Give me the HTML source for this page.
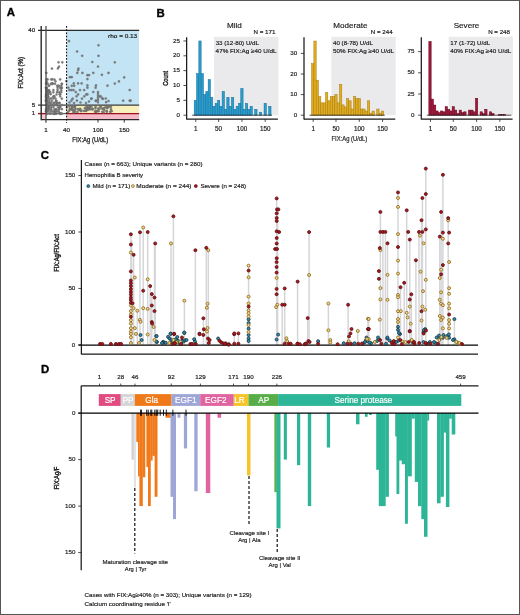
<!DOCTYPE html>
<html><head><meta charset="utf-8"><title>Figure</title>
<style>html,body{margin:0;padding:0;background:#fff;width:520px;height:615px;overflow:hidden}svg{display:block;will-change:transform}
text{font-family:"Liberation Sans", sans-serif}</style></head>
<body><svg width="520" height="615" viewBox="0 0 520 615">
<rect x="0.5" y="0.5" width="519" height="614" fill="#fff" stroke="#555" stroke-width="1"/>
<text x="6.7" y="16.48" font-size="11.4" text-anchor="start" fill="#000" font-weight="bold" stroke="#000" stroke-width="0.35">A</text>
<text x="156.5" y="16.68" font-size="11.4" text-anchor="start" fill="#000" font-weight="bold" stroke="#000" stroke-width="0.35">B</text>
<text x="40.8" y="159.38" font-size="11.4" text-anchor="start" fill="#000" font-weight="bold" stroke="#000" stroke-width="0.35">C</text>
<text x="41" y="372.68" font-size="11.4" text-anchor="start" fill="#000" font-weight="bold" stroke="#000" stroke-width="0.35">D</text>
<rect x="67" y="30.4" width="72" height="74.6" fill="#c3e4f4"/>
<rect x="67" y="105.3" width="72" height="8" fill="#f8f0bb"/>
<rect x="67" y="113.5" width="72" height="6.1" fill="#f5b9c8"/>
<rect x="41.5" y="113.5" width="4.2" height="6.1" fill="#f5c9d4"/>
<line x1="38" y1="113.6" x2="46" y2="113.6" stroke="#a01222" stroke-width="1.4"/>
<line x1="46" y1="113.6" x2="66.6" y2="113.6" stroke="#6a6a6a" stroke-width="1.4"/>
<line x1="66.6" y1="113.6" x2="139.2" y2="113.6" stroke="#a01222" stroke-width="1.4"/>
<line x1="38" y1="105.1" x2="139.2" y2="105.1" stroke="#3a3a3a" stroke-width="1.2"/>
<circle cx="69" cy="41.1" r="1.1" fill="#7c7c7c" stroke="#5c5c5c" stroke-width="0.3"/>
<circle cx="98.5" cy="45.3" r="1.1" fill="#7c7c7c" stroke="#5c5c5c" stroke-width="0.3"/>
<circle cx="77.1" cy="51.5" r="1.1" fill="#7c7c7c" stroke="#5c5c5c" stroke-width="0.3"/>
<circle cx="82.2" cy="55.8" r="1.1" fill="#7c7c7c" stroke="#5c5c5c" stroke-width="0.3"/>
<circle cx="98.5" cy="55.8" r="1.1" fill="#7c7c7c" stroke="#5c5c5c" stroke-width="0.3"/>
<circle cx="92.3" cy="62" r="1.1" fill="#7c7c7c" stroke="#5c5c5c" stroke-width="0.3"/>
<circle cx="114.8" cy="62.3" r="1.1" fill="#7c7c7c" stroke="#5c5c5c" stroke-width="0.3"/>
<circle cx="98" cy="66.6" r="1.1" fill="#7c7c7c" stroke="#5c5c5c" stroke-width="0.3"/>
<circle cx="78.5" cy="68.6" r="1.1" fill="#7c7c7c" stroke="#5c5c5c" stroke-width="0.3"/>
<circle cx="78.1" cy="70.2" r="1.1" fill="#7c7c7c" stroke="#5c5c5c" stroke-width="0.3"/>
<circle cx="77.3" cy="72.9" r="1.1" fill="#7c7c7c" stroke="#5c5c5c" stroke-width="0.3"/>
<circle cx="82.4" cy="72.9" r="1.1" fill="#7c7c7c" stroke="#5c5c5c" stroke-width="0.3"/>
<circle cx="93.3" cy="72.9" r="1.1" fill="#7c7c7c" stroke="#5c5c5c" stroke-width="0.3"/>
<circle cx="87.4" cy="75.2" r="1.1" fill="#7c7c7c" stroke="#5c5c5c" stroke-width="0.3"/>
<circle cx="89" cy="75.2" r="1.1" fill="#7c7c7c" stroke="#5c5c5c" stroke-width="0.3"/>
<circle cx="101.9" cy="74.8" r="1.1" fill="#7c7c7c" stroke="#5c5c5c" stroke-width="0.3"/>
<circle cx="108.5" cy="72.9" r="1.1" fill="#7c7c7c" stroke="#5c5c5c" stroke-width="0.3"/>
<circle cx="69.9" cy="77.2" r="1.1" fill="#7c7c7c" stroke="#5c5c5c" stroke-width="0.3"/>
<circle cx="71.8" cy="77.2" r="1.1" fill="#7c7c7c" stroke="#5c5c5c" stroke-width="0.3"/>
<circle cx="124.2" cy="77.4" r="1.1" fill="#7c7c7c" stroke="#5c5c5c" stroke-width="0.3"/>
<circle cx="87.4" cy="79.1" r="1.1" fill="#7c7c7c" stroke="#5c5c5c" stroke-width="0.3"/>
<circle cx="118.9" cy="81.4" r="1.1" fill="#7c7c7c" stroke="#5c5c5c" stroke-width="0.3"/>
<circle cx="73.8" cy="83.4" r="1.1" fill="#7c7c7c" stroke="#5c5c5c" stroke-width="0.3"/>
<circle cx="78.1" cy="83.4" r="1.1" fill="#7c7c7c" stroke="#5c5c5c" stroke-width="0.3"/>
<circle cx="81.6" cy="83.4" r="1.1" fill="#7c7c7c" stroke="#5c5c5c" stroke-width="0.3"/>
<circle cx="114.8" cy="83.6" r="1.1" fill="#7c7c7c" stroke="#5c5c5c" stroke-width="0.3"/>
<circle cx="71.8" cy="85.8" r="1.1" fill="#7c7c7c" stroke="#5c5c5c" stroke-width="0.3"/>
<circle cx="74.2" cy="85.8" r="1.1" fill="#7c7c7c" stroke="#5c5c5c" stroke-width="0.3"/>
<circle cx="87.4" cy="85.4" r="1.1" fill="#7c7c7c" stroke="#5c5c5c" stroke-width="0.3"/>
<circle cx="96" cy="85.4" r="1.1" fill="#7c7c7c" stroke="#5c5c5c" stroke-width="0.3"/>
<circle cx="107.5" cy="85.7" r="1.1" fill="#7c7c7c" stroke="#5c5c5c" stroke-width="0.3"/>
<circle cx="87.4" cy="87.7" r="1.1" fill="#7c7c7c" stroke="#5c5c5c" stroke-width="0.3"/>
<circle cx="95.6" cy="87.7" r="1.1" fill="#7c7c7c" stroke="#5c5c5c" stroke-width="0.3"/>
<circle cx="68.3" cy="87.7" r="1.1" fill="#7c7c7c" stroke="#5c5c5c" stroke-width="0.3"/>
<circle cx="69.5" cy="90.1" r="1.1" fill="#7c7c7c" stroke="#5c5c5c" stroke-width="0.3"/>
<circle cx="71.4" cy="90.1" r="1.1" fill="#7c7c7c" stroke="#5c5c5c" stroke-width="0.3"/>
<circle cx="73.4" cy="90.1" r="1.1" fill="#7c7c7c" stroke="#5c5c5c" stroke-width="0.3"/>
<circle cx="80" cy="90.1" r="1.1" fill="#7c7c7c" stroke="#5c5c5c" stroke-width="0.3"/>
<circle cx="84.2" cy="90.1" r="1.1" fill="#7c7c7c" stroke="#5c5c5c" stroke-width="0.3"/>
<circle cx="129.7" cy="90" r="1.1" fill="#7c7c7c" stroke="#5c5c5c" stroke-width="0.3"/>
<circle cx="75.7" cy="92" r="1.1" fill="#7c7c7c" stroke="#5c5c5c" stroke-width="0.3"/>
<circle cx="93.3" cy="92" r="1.1" fill="#7c7c7c" stroke="#5c5c5c" stroke-width="0.3"/>
<circle cx="78.1" cy="94.4" r="1.1" fill="#7c7c7c" stroke="#5c5c5c" stroke-width="0.3"/>
<circle cx="86.3" cy="94.4" r="1.1" fill="#7c7c7c" stroke="#5c5c5c" stroke-width="0.3"/>
<circle cx="87.4" cy="94.4" r="1.1" fill="#7c7c7c" stroke="#5c5c5c" stroke-width="0.3"/>
<circle cx="76.5" cy="96.3" r="1.1" fill="#7c7c7c" stroke="#5c5c5c" stroke-width="0.3"/>
<circle cx="84.3" cy="96.3" r="1.1" fill="#7c7c7c" stroke="#5c5c5c" stroke-width="0.3"/>
<circle cx="99.9" cy="96.3" r="1.1" fill="#7c7c7c" stroke="#5c5c5c" stroke-width="0.3"/>
<circle cx="102.3" cy="98.3" r="1.1" fill="#7c7c7c" stroke="#5c5c5c" stroke-width="0.3"/>
<circle cx="100.8" cy="96.5" r="1.1" fill="#7c7c7c" stroke="#5c5c5c" stroke-width="0.3"/>
<circle cx="102.8" cy="98.9" r="1.1" fill="#7c7c7c" stroke="#5c5c5c" stroke-width="0.3"/>
<circle cx="105.7" cy="98.5" r="1.1" fill="#7c7c7c" stroke="#5c5c5c" stroke-width="0.3"/>
<circle cx="106.1" cy="102.2" r="1.1" fill="#7c7c7c" stroke="#5c5c5c" stroke-width="0.3"/>
<circle cx="108.5" cy="101" r="1.1" fill="#7c7c7c" stroke="#5c5c5c" stroke-width="0.3"/>
<circle cx="72.6" cy="98.7" r="1.1" fill="#7c7c7c" stroke="#5c5c5c" stroke-width="0.3"/>
<circle cx="71.4" cy="100.6" r="1.1" fill="#7c7c7c" stroke="#5c5c5c" stroke-width="0.3"/>
<circle cx="76.9" cy="100.6" r="1.1" fill="#7c7c7c" stroke="#5c5c5c" stroke-width="0.3"/>
<circle cx="82" cy="98.7" r="1.1" fill="#7c7c7c" stroke="#5c5c5c" stroke-width="0.3"/>
<circle cx="91.3" cy="98.7" r="1.1" fill="#7c7c7c" stroke="#5c5c5c" stroke-width="0.3"/>
<circle cx="96" cy="100.6" r="1.1" fill="#7c7c7c" stroke="#5c5c5c" stroke-width="0.3"/>
<circle cx="123.2" cy="100.7" r="1.1" fill="#7c7c7c" stroke="#5c5c5c" stroke-width="0.3"/>
<circle cx="129.7" cy="100.7" r="1.1" fill="#7c7c7c" stroke="#5c5c5c" stroke-width="0.3"/>
<circle cx="130.7" cy="100.7" r="1.1" fill="#7c7c7c" stroke="#5c5c5c" stroke-width="0.3"/>
<circle cx="91.6" cy="98.6" r="1.1" fill="#7c7c7c" stroke="#5c5c5c" stroke-width="0.3"/>
<circle cx="95.8" cy="100.9" r="1.1" fill="#7c7c7c" stroke="#5c5c5c" stroke-width="0.3"/>
<circle cx="66.3" cy="81.1" r="1.1" fill="#7c7c7c" stroke="#5c5c5c" stroke-width="0.3"/>
<circle cx="98" cy="92" r="1.1" fill="#7c7c7c" stroke="#5c5c5c" stroke-width="0.3"/>
<circle cx="98" cy="94" r="1.1" fill="#7c7c7c" stroke="#5c5c5c" stroke-width="0.3"/>
<circle cx="98" cy="96" r="1.1" fill="#7c7c7c" stroke="#5c5c5c" stroke-width="0.3"/>
<circle cx="98" cy="98" r="1.1" fill="#7c7c7c" stroke="#5c5c5c" stroke-width="0.3"/>
<circle cx="98" cy="100" r="1.1" fill="#7c7c7c" stroke="#5c5c5c" stroke-width="0.3"/>
<circle cx="98" cy="102.3" r="1.1" fill="#7c7c7c" stroke="#5c5c5c" stroke-width="0.3"/>
<circle cx="69.5" cy="102.5" r="1.1" fill="#7c7c7c" stroke="#5c5c5c" stroke-width="0.3"/>
<circle cx="74" cy="103" r="1.1" fill="#7c7c7c" stroke="#5c5c5c" stroke-width="0.3"/>
<circle cx="80.5" cy="102.5" r="1.1" fill="#7c7c7c" stroke="#5c5c5c" stroke-width="0.3"/>
<circle cx="86" cy="103" r="1.1" fill="#7c7c7c" stroke="#5c5c5c" stroke-width="0.3"/>
<circle cx="89" cy="101.5" r="1.1" fill="#7c7c7c" stroke="#5c5c5c" stroke-width="0.3"/>
<circle cx="58.5" cy="62.3" r="1.1" fill="#7c7c7c" stroke="#5c5c5c" stroke-width="0.3"/>
<circle cx="62.3" cy="62.3" r="1.1" fill="#7c7c7c" stroke="#5c5c5c" stroke-width="0.3"/>
<circle cx="59" cy="66.7" r="1.1" fill="#7c7c7c" stroke="#5c5c5c" stroke-width="0.3"/>
<circle cx="57.9" cy="68.4" r="1.1" fill="#7c7c7c" stroke="#5c5c5c" stroke-width="0.3"/>
<circle cx="51.9" cy="68.6" r="1.1" fill="#7c7c7c" stroke="#5c5c5c" stroke-width="0.3"/>
<circle cx="46.3" cy="72.9" r="1.1" fill="#7c7c7c" stroke="#5c5c5c" stroke-width="0.3"/>
<circle cx="51.27" cy="79.44" r="1.1" fill="#7c7c7c" stroke="#5c5c5c" stroke-width="0.3"/>
<circle cx="60.2" cy="79.41" r="1.1" fill="#7c7c7c" stroke="#5c5c5c" stroke-width="0.3"/>
<circle cx="52.33" cy="79.45" r="1.1" fill="#7c7c7c" stroke="#5c5c5c" stroke-width="0.3"/>
<circle cx="47.6" cy="79.42" r="1.1" fill="#7c7c7c" stroke="#5c5c5c" stroke-width="0.3"/>
<circle cx="54.42" cy="79.54" r="1.1" fill="#7c7c7c" stroke="#5c5c5c" stroke-width="0.3"/>
<circle cx="46.55" cy="79.34" r="1.1" fill="#7c7c7c" stroke="#5c5c5c" stroke-width="0.3"/>
<circle cx="46.55" cy="81.67" r="1.1" fill="#7c7c7c" stroke="#5c5c5c" stroke-width="0.3"/>
<circle cx="55.48" cy="81.37" r="1.1" fill="#7c7c7c" stroke="#5c5c5c" stroke-width="0.3"/>
<circle cx="61.78" cy="83.87" r="1.1" fill="#7c7c7c" stroke="#5c5c5c" stroke-width="0.3"/>
<circle cx="54.95" cy="83.73" r="1.1" fill="#7c7c7c" stroke="#5c5c5c" stroke-width="0.3"/>
<circle cx="47.08" cy="83.49" r="1.1" fill="#7c7c7c" stroke="#5c5c5c" stroke-width="0.3"/>
<circle cx="52.85" cy="83.5" r="1.1" fill="#7c7c7c" stroke="#5c5c5c" stroke-width="0.3"/>
<circle cx="47.6" cy="83.58" r="1.1" fill="#7c7c7c" stroke="#5c5c5c" stroke-width="0.3"/>
<circle cx="46.02" cy="83.67" r="1.1" fill="#7c7c7c" stroke="#5c5c5c" stroke-width="0.3"/>
<circle cx="51.27" cy="83.82" r="1.1" fill="#7c7c7c" stroke="#5c5c5c" stroke-width="0.3"/>
<circle cx="52.33" cy="83.74" r="1.1" fill="#7c7c7c" stroke="#5c5c5c" stroke-width="0.3"/>
<circle cx="52.33" cy="83.74" r="1.1" fill="#7c7c7c" stroke="#5c5c5c" stroke-width="0.3"/>
<circle cx="51.27" cy="83.59" r="1.1" fill="#7c7c7c" stroke="#5c5c5c" stroke-width="0.3"/>
<circle cx="61.78" cy="83.88" r="1.1" fill="#7c7c7c" stroke="#5c5c5c" stroke-width="0.3"/>
<circle cx="58.62" cy="85.89" r="1.1" fill="#7c7c7c" stroke="#5c5c5c" stroke-width="0.3"/>
<circle cx="49.17" cy="85.7" r="1.1" fill="#7c7c7c" stroke="#5c5c5c" stroke-width="0.3"/>
<circle cx="48.65" cy="85.64" r="1.1" fill="#7c7c7c" stroke="#5c5c5c" stroke-width="0.3"/>
<circle cx="57.05" cy="85.77" r="1.1" fill="#7c7c7c" stroke="#5c5c5c" stroke-width="0.3"/>
<circle cx="58.62" cy="85.76" r="1.1" fill="#7c7c7c" stroke="#5c5c5c" stroke-width="0.3"/>
<circle cx="61.25" cy="85.95" r="1.1" fill="#7c7c7c" stroke="#5c5c5c" stroke-width="0.3"/>
<circle cx="46.02" cy="87.82" r="1.1" fill="#7c7c7c" stroke="#5c5c5c" stroke-width="0.3"/>
<circle cx="60.2" cy="87.93" r="1.1" fill="#7c7c7c" stroke="#5c5c5c" stroke-width="0.3"/>
<circle cx="61.78" cy="87.9" r="1.1" fill="#7c7c7c" stroke="#5c5c5c" stroke-width="0.3"/>
<circle cx="46.02" cy="87.99" r="1.1" fill="#7c7c7c" stroke="#5c5c5c" stroke-width="0.3"/>
<circle cx="57.58" cy="87.85" r="1.1" fill="#7c7c7c" stroke="#5c5c5c" stroke-width="0.3"/>
<circle cx="46.55" cy="87.87" r="1.1" fill="#7c7c7c" stroke="#5c5c5c" stroke-width="0.3"/>
<circle cx="61.25" cy="88.04" r="1.1" fill="#7c7c7c" stroke="#5c5c5c" stroke-width="0.3"/>
<circle cx="46.55" cy="87.84" r="1.1" fill="#7c7c7c" stroke="#5c5c5c" stroke-width="0.3"/>
<circle cx="46.55" cy="87.76" r="1.1" fill="#7c7c7c" stroke="#5c5c5c" stroke-width="0.3"/>
<circle cx="57.58" cy="89.94" r="1.1" fill="#7c7c7c" stroke="#5c5c5c" stroke-width="0.3"/>
<circle cx="53.38" cy="90.05" r="1.1" fill="#7c7c7c" stroke="#5c5c5c" stroke-width="0.3"/>
<circle cx="47.6" cy="90.16" r="1.1" fill="#7c7c7c" stroke="#5c5c5c" stroke-width="0.3"/>
<circle cx="46.55" cy="90.13" r="1.1" fill="#7c7c7c" stroke="#5c5c5c" stroke-width="0.3"/>
<circle cx="46.55" cy="90.04" r="1.1" fill="#7c7c7c" stroke="#5c5c5c" stroke-width="0.3"/>
<circle cx="47.6" cy="89.98" r="1.1" fill="#7c7c7c" stroke="#5c5c5c" stroke-width="0.3"/>
<circle cx="61.25" cy="90.19" r="1.1" fill="#7c7c7c" stroke="#5c5c5c" stroke-width="0.3"/>
<circle cx="49.17" cy="90.22" r="1.1" fill="#7c7c7c" stroke="#5c5c5c" stroke-width="0.3"/>
<circle cx="47.6" cy="92.16" r="1.1" fill="#7c7c7c" stroke="#5c5c5c" stroke-width="0.3"/>
<circle cx="59.15" cy="92.26" r="1.1" fill="#7c7c7c" stroke="#5c5c5c" stroke-width="0.3"/>
<circle cx="46.55" cy="92.4" r="1.1" fill="#7c7c7c" stroke="#5c5c5c" stroke-width="0.3"/>
<circle cx="47.6" cy="92.1" r="1.1" fill="#7c7c7c" stroke="#5c5c5c" stroke-width="0.3"/>
<circle cx="57.05" cy="92.13" r="1.1" fill="#7c7c7c" stroke="#5c5c5c" stroke-width="0.3"/>
<circle cx="49.17" cy="92.03" r="1.1" fill="#7c7c7c" stroke="#5c5c5c" stroke-width="0.3"/>
<circle cx="46.55" cy="92.23" r="1.1" fill="#7c7c7c" stroke="#5c5c5c" stroke-width="0.3"/>
<circle cx="48.12" cy="92.24" r="1.1" fill="#7c7c7c" stroke="#5c5c5c" stroke-width="0.3"/>
<circle cx="50.23" cy="92.18" r="1.1" fill="#7c7c7c" stroke="#5c5c5c" stroke-width="0.3"/>
<circle cx="61.25" cy="92.19" r="1.1" fill="#7c7c7c" stroke="#5c5c5c" stroke-width="0.3"/>
<circle cx="53.38" cy="92.35" r="1.1" fill="#7c7c7c" stroke="#5c5c5c" stroke-width="0.3"/>
<circle cx="47.6" cy="94.19" r="1.1" fill="#7c7c7c" stroke="#5c5c5c" stroke-width="0.3"/>
<circle cx="60.2" cy="94.46" r="1.1" fill="#7c7c7c" stroke="#5c5c5c" stroke-width="0.3"/>
<circle cx="48.12" cy="94.21" r="1.1" fill="#7c7c7c" stroke="#5c5c5c" stroke-width="0.3"/>
<circle cx="56.52" cy="94.51" r="1.1" fill="#7c7c7c" stroke="#5c5c5c" stroke-width="0.3"/>
<circle cx="47.6" cy="94.51" r="1.1" fill="#7c7c7c" stroke="#5c5c5c" stroke-width="0.3"/>
<circle cx="59.67" cy="94.37" r="1.1" fill="#7c7c7c" stroke="#5c5c5c" stroke-width="0.3"/>
<circle cx="50.75" cy="94.17" r="1.1" fill="#7c7c7c" stroke="#5c5c5c" stroke-width="0.3"/>
<circle cx="46.02" cy="94.52" r="1.1" fill="#7c7c7c" stroke="#5c5c5c" stroke-width="0.3"/>
<circle cx="48.12" cy="96.54" r="1.1" fill="#7c7c7c" stroke="#5c5c5c" stroke-width="0.3"/>
<circle cx="48.12" cy="96.59" r="1.1" fill="#7c7c7c" stroke="#5c5c5c" stroke-width="0.3"/>
<circle cx="53.9" cy="96.38" r="1.1" fill="#7c7c7c" stroke="#5c5c5c" stroke-width="0.3"/>
<circle cx="47.08" cy="96.55" r="1.1" fill="#7c7c7c" stroke="#5c5c5c" stroke-width="0.3"/>
<circle cx="46.02" cy="96.35" r="1.1" fill="#7c7c7c" stroke="#5c5c5c" stroke-width="0.3"/>
<circle cx="53.38" cy="96.6" r="1.1" fill="#7c7c7c" stroke="#5c5c5c" stroke-width="0.3"/>
<circle cx="54.42" cy="96.37" r="1.1" fill="#7c7c7c" stroke="#5c5c5c" stroke-width="0.3"/>
<circle cx="60.2" cy="96.34" r="1.1" fill="#7c7c7c" stroke="#5c5c5c" stroke-width="0.3"/>
<circle cx="46.02" cy="98.5" r="1.1" fill="#7c7c7c" stroke="#5c5c5c" stroke-width="0.3"/>
<circle cx="51.27" cy="98.41" r="1.1" fill="#7c7c7c" stroke="#5c5c5c" stroke-width="0.3"/>
<circle cx="47.08" cy="98.54" r="1.1" fill="#7c7c7c" stroke="#5c5c5c" stroke-width="0.3"/>
<circle cx="53.38" cy="98.44" r="1.1" fill="#7c7c7c" stroke="#5c5c5c" stroke-width="0.3"/>
<circle cx="49.7" cy="98.75" r="1.1" fill="#7c7c7c" stroke="#5c5c5c" stroke-width="0.3"/>
<circle cx="61.78" cy="98.65" r="1.1" fill="#7c7c7c" stroke="#5c5c5c" stroke-width="0.3"/>
<circle cx="55.48" cy="98.62" r="1.1" fill="#7c7c7c" stroke="#5c5c5c" stroke-width="0.3"/>
<circle cx="47.08" cy="100.53" r="1.1" fill="#7c7c7c" stroke="#5c5c5c" stroke-width="0.3"/>
<circle cx="46.02" cy="100.88" r="1.1" fill="#7c7c7c" stroke="#5c5c5c" stroke-width="0.3"/>
<circle cx="56" cy="100.91" r="1.1" fill="#7c7c7c" stroke="#5c5c5c" stroke-width="0.3"/>
<circle cx="46.02" cy="100.77" r="1.1" fill="#7c7c7c" stroke="#5c5c5c" stroke-width="0.3"/>
<circle cx="51.8" cy="100.81" r="1.1" fill="#7c7c7c" stroke="#5c5c5c" stroke-width="0.3"/>
<circle cx="49.17" cy="100.92" r="1.1" fill="#7c7c7c" stroke="#5c5c5c" stroke-width="0.3"/>
<circle cx="46.02" cy="100.74" r="1.1" fill="#7c7c7c" stroke="#5c5c5c" stroke-width="0.3"/>
<circle cx="56.52" cy="100.88" r="1.1" fill="#7c7c7c" stroke="#5c5c5c" stroke-width="0.3"/>
<circle cx="56.52" cy="102.93" r="1.1" fill="#7c7c7c" stroke="#5c5c5c" stroke-width="0.3"/>
<circle cx="57.58" cy="103.02" r="1.1" fill="#7c7c7c" stroke="#5c5c5c" stroke-width="0.3"/>
<circle cx="49.7" cy="102.92" r="1.1" fill="#7c7c7c" stroke="#5c5c5c" stroke-width="0.3"/>
<circle cx="59.67" cy="103" r="1.1" fill="#7c7c7c" stroke="#5c5c5c" stroke-width="0.3"/>
<circle cx="50.75" cy="102.97" r="1.1" fill="#7c7c7c" stroke="#5c5c5c" stroke-width="0.3"/>
<circle cx="59.15" cy="102.88" r="1.1" fill="#7c7c7c" stroke="#5c5c5c" stroke-width="0.3"/>
<circle cx="54.42" cy="102.8" r="1.1" fill="#7c7c7c" stroke="#5c5c5c" stroke-width="0.3"/>
<circle cx="53.38" cy="102.89" r="1.1" fill="#7c7c7c" stroke="#5c5c5c" stroke-width="0.3"/>
<circle cx="46.55" cy="105.04" r="1.1" fill="#7c7c7c" stroke="#5c5c5c" stroke-width="0.3"/>
<circle cx="61.78" cy="105.13" r="1.1" fill="#7c7c7c" stroke="#5c5c5c" stroke-width="0.3"/>
<circle cx="56.52" cy="104.94" r="1.1" fill="#7c7c7c" stroke="#5c5c5c" stroke-width="0.3"/>
<circle cx="56.52" cy="105.01" r="1.1" fill="#7c7c7c" stroke="#5c5c5c" stroke-width="0.3"/>
<circle cx="51.27" cy="105.12" r="1.1" fill="#7c7c7c" stroke="#5c5c5c" stroke-width="0.3"/>
<circle cx="46.55" cy="105.08" r="1.1" fill="#7c7c7c" stroke="#5c5c5c" stroke-width="0.3"/>
<circle cx="46.02" cy="105.02" r="1.1" fill="#7c7c7c" stroke="#5c5c5c" stroke-width="0.3"/>
<circle cx="51.8" cy="104.87" r="1.1" fill="#7c7c7c" stroke="#5c5c5c" stroke-width="0.3"/>
<circle cx="56" cy="104.98" r="1.1" fill="#7c7c7c" stroke="#5c5c5c" stroke-width="0.3"/>
<circle cx="54.42" cy="105.15" r="1.1" fill="#7c7c7c" stroke="#5c5c5c" stroke-width="0.3"/>
<circle cx="48.12" cy="106.91" r="1.1" fill="#7c7c7c" stroke="#5c5c5c" stroke-width="0.3"/>
<circle cx="49.17" cy="107.18" r="1.1" fill="#7c7c7c" stroke="#5c5c5c" stroke-width="0.3"/>
<circle cx="47.6" cy="106.98" r="1.1" fill="#7c7c7c" stroke="#5c5c5c" stroke-width="0.3"/>
<circle cx="60.2" cy="107.17" r="1.1" fill="#7c7c7c" stroke="#5c5c5c" stroke-width="0.3"/>
<circle cx="51.27" cy="107.27" r="1.1" fill="#7c7c7c" stroke="#5c5c5c" stroke-width="0.3"/>
<circle cx="49.17" cy="107.18" r="1.1" fill="#7c7c7c" stroke="#5c5c5c" stroke-width="0.3"/>
<circle cx="47.6" cy="107.08" r="1.1" fill="#7c7c7c" stroke="#5c5c5c" stroke-width="0.3"/>
<circle cx="58.1" cy="107.28" r="1.1" fill="#7c7c7c" stroke="#5c5c5c" stroke-width="0.3"/>
<circle cx="59.67" cy="107.06" r="1.1" fill="#7c7c7c" stroke="#5c5c5c" stroke-width="0.3"/>
<circle cx="53.38" cy="107.04" r="1.1" fill="#7c7c7c" stroke="#5c5c5c" stroke-width="0.3"/>
<circle cx="47.08" cy="107.11" r="1.1" fill="#7c7c7c" stroke="#5c5c5c" stroke-width="0.3"/>
<circle cx="58.62" cy="109.38" r="1.1" fill="#7c7c7c" stroke="#5c5c5c" stroke-width="0.3"/>
<circle cx="56" cy="109.42" r="1.1" fill="#7c7c7c" stroke="#5c5c5c" stroke-width="0.3"/>
<circle cx="48.65" cy="109.11" r="1.1" fill="#7c7c7c" stroke="#5c5c5c" stroke-width="0.3"/>
<circle cx="51.27" cy="109.15" r="1.1" fill="#7c7c7c" stroke="#5c5c5c" stroke-width="0.3"/>
<circle cx="47.6" cy="109.21" r="1.1" fill="#7c7c7c" stroke="#5c5c5c" stroke-width="0.3"/>
<circle cx="54.42" cy="109.24" r="1.1" fill="#7c7c7c" stroke="#5c5c5c" stroke-width="0.3"/>
<circle cx="49.17" cy="109.38" r="1.1" fill="#7c7c7c" stroke="#5c5c5c" stroke-width="0.3"/>
<circle cx="61.78" cy="109.22" r="1.1" fill="#7c7c7c" stroke="#5c5c5c" stroke-width="0.3"/>
<circle cx="46.02" cy="109.05" r="1.1" fill="#7c7c7c" stroke="#5c5c5c" stroke-width="0.3"/>
<circle cx="59.15" cy="109.06" r="1.1" fill="#7c7c7c" stroke="#5c5c5c" stroke-width="0.3"/>
<circle cx="56" cy="109.27" r="1.1" fill="#7c7c7c" stroke="#5c5c5c" stroke-width="0.3"/>
<circle cx="49.17" cy="109.36" r="1.1" fill="#7c7c7c" stroke="#5c5c5c" stroke-width="0.3"/>
<circle cx="46.02" cy="111.22" r="1.1" fill="#7c7c7c" stroke="#5c5c5c" stroke-width="0.3"/>
<circle cx="51.27" cy="111.18" r="1.1" fill="#7c7c7c" stroke="#5c5c5c" stroke-width="0.3"/>
<circle cx="58.62" cy="111.26" r="1.1" fill="#7c7c7c" stroke="#5c5c5c" stroke-width="0.3"/>
<circle cx="47.08" cy="111.19" r="1.1" fill="#7c7c7c" stroke="#5c5c5c" stroke-width="0.3"/>
<circle cx="54.42" cy="111.35" r="1.1" fill="#7c7c7c" stroke="#5c5c5c" stroke-width="0.3"/>
<circle cx="54.42" cy="111.43" r="1.1" fill="#7c7c7c" stroke="#5c5c5c" stroke-width="0.3"/>
<circle cx="58.1" cy="111.55" r="1.1" fill="#7c7c7c" stroke="#5c5c5c" stroke-width="0.3"/>
<circle cx="55.48" cy="111.25" r="1.1" fill="#7c7c7c" stroke="#5c5c5c" stroke-width="0.3"/>
<circle cx="51.8" cy="111.24" r="1.1" fill="#7c7c7c" stroke="#5c5c5c" stroke-width="0.3"/>
<circle cx="46.02" cy="111.36" r="1.1" fill="#7c7c7c" stroke="#5c5c5c" stroke-width="0.3"/>
<circle cx="56" cy="111.24" r="1.1" fill="#7c7c7c" stroke="#5c5c5c" stroke-width="0.3"/>
<circle cx="48.65" cy="111.31" r="1.1" fill="#7c7c7c" stroke="#5c5c5c" stroke-width="0.3"/>
<circle cx="56" cy="113.51" r="1.1" fill="#7c7c7c" stroke="#5c5c5c" stroke-width="0.3"/>
<circle cx="54.42" cy="113.6" r="1.1" fill="#7c7c7c" stroke="#5c5c5c" stroke-width="0.3"/>
<circle cx="50.23" cy="113.62" r="1.1" fill="#7c7c7c" stroke="#5c5c5c" stroke-width="0.3"/>
<circle cx="60.2" cy="113.33" r="1.1" fill="#7c7c7c" stroke="#5c5c5c" stroke-width="0.3"/>
<circle cx="60.73" cy="113.59" r="1.1" fill="#7c7c7c" stroke="#5c5c5c" stroke-width="0.3"/>
<circle cx="46.55" cy="113.48" r="1.1" fill="#7c7c7c" stroke="#5c5c5c" stroke-width="0.3"/>
<circle cx="54.42" cy="113.66" r="1.1" fill="#7c7c7c" stroke="#5c5c5c" stroke-width="0.3"/>
<circle cx="50.23" cy="113.53" r="1.1" fill="#7c7c7c" stroke="#5c5c5c" stroke-width="0.3"/>
<circle cx="59.67" cy="113.62" r="1.1" fill="#7c7c7c" stroke="#5c5c5c" stroke-width="0.3"/>
<circle cx="60.73" cy="113.49" r="1.1" fill="#7c7c7c" stroke="#5c5c5c" stroke-width="0.3"/>
<circle cx="54.95" cy="113.38" r="1.1" fill="#7c7c7c" stroke="#5c5c5c" stroke-width="0.3"/>
<circle cx="56" cy="113.63" r="1.1" fill="#7c7c7c" stroke="#5c5c5c" stroke-width="0.3"/>
<circle cx="54.95" cy="113.59" r="1.1" fill="#7c7c7c" stroke="#5c5c5c" stroke-width="0.3"/>
<circle cx="47.6" cy="113.66" r="1.1" fill="#7c7c7c" stroke="#5c5c5c" stroke-width="0.3"/>
<circle cx="61.78" cy="113.69" r="1.1" fill="#7c7c7c" stroke="#5c5c5c" stroke-width="0.3"/>
<circle cx="52.85" cy="113.62" r="1.1" fill="#7c7c7c" stroke="#5c5c5c" stroke-width="0.3"/>
<circle cx="46.55" cy="94.54" r="1.1" fill="#7c7c7c" stroke="#5c5c5c" stroke-width="0.3"/>
<circle cx="46.55" cy="104.94" r="1.1" fill="#7c7c7c" stroke="#5c5c5c" stroke-width="0.3"/>
<circle cx="47.08" cy="96.45" r="1.1" fill="#7c7c7c" stroke="#5c5c5c" stroke-width="0.3"/>
<circle cx="46.02" cy="96.2" r="1.1" fill="#7c7c7c" stroke="#5c5c5c" stroke-width="0.3"/>
<circle cx="47.6" cy="102.75" r="1.1" fill="#7c7c7c" stroke="#5c5c5c" stroke-width="0.3"/>
<circle cx="47.6" cy="104.77" r="1.1" fill="#7c7c7c" stroke="#5c5c5c" stroke-width="0.3"/>
<circle cx="47.08" cy="96.66" r="1.1" fill="#7c7c7c" stroke="#5c5c5c" stroke-width="0.3"/>
<circle cx="47.6" cy="94.33" r="1.1" fill="#7c7c7c" stroke="#5c5c5c" stroke-width="0.3"/>
<circle cx="48.12" cy="104.81" r="1.1" fill="#7c7c7c" stroke="#5c5c5c" stroke-width="0.3"/>
<circle cx="47.08" cy="102.99" r="1.1" fill="#7c7c7c" stroke="#5c5c5c" stroke-width="0.3"/>
<circle cx="47.6" cy="98.8" r="1.1" fill="#7c7c7c" stroke="#5c5c5c" stroke-width="0.3"/>
<circle cx="47.08" cy="102.78" r="1.1" fill="#7c7c7c" stroke="#5c5c5c" stroke-width="0.3"/>
<circle cx="48.12" cy="94.15" r="1.1" fill="#7c7c7c" stroke="#5c5c5c" stroke-width="0.3"/>
<circle cx="48.12" cy="94.34" r="1.1" fill="#7c7c7c" stroke="#5c5c5c" stroke-width="0.3"/>
<circle cx="89.53" cy="107.45" r="1.1" fill="#7c7c7c" stroke="#5c5c5c" stroke-width="0.3"/>
<circle cx="87.68" cy="109.32" r="1.1" fill="#7c7c7c" stroke="#5c5c5c" stroke-width="0.3"/>
<circle cx="91.16" cy="106.37" r="1.1" fill="#7c7c7c" stroke="#5c5c5c" stroke-width="0.3"/>
<circle cx="110.94" cy="109.4" r="1.1" fill="#7c7c7c" stroke="#5c5c5c" stroke-width="0.3"/>
<circle cx="81.22" cy="111.17" r="1.1" fill="#7c7c7c" stroke="#5c5c5c" stroke-width="0.3"/>
<circle cx="89.02" cy="109.24" r="1.1" fill="#7c7c7c" stroke="#5c5c5c" stroke-width="0.3"/>
<circle cx="95.61" cy="106.61" r="1.1" fill="#7c7c7c" stroke="#5c5c5c" stroke-width="0.3"/>
<circle cx="87.82" cy="108.77" r="1.1" fill="#7c7c7c" stroke="#5c5c5c" stroke-width="0.3"/>
<circle cx="110.22" cy="111.93" r="1.1" fill="#7c7c7c" stroke="#5c5c5c" stroke-width="0.3"/>
<circle cx="75.46" cy="109.13" r="1.1" fill="#7c7c7c" stroke="#5c5c5c" stroke-width="0.3"/>
<circle cx="70" cy="108.89" r="1.1" fill="#7c7c7c" stroke="#5c5c5c" stroke-width="0.3"/>
<circle cx="102.32" cy="111.78" r="1.1" fill="#7c7c7c" stroke="#5c5c5c" stroke-width="0.3"/>
<circle cx="84.79" cy="108.17" r="1.1" fill="#7c7c7c" stroke="#5c5c5c" stroke-width="0.3"/>
<circle cx="72.35" cy="110.03" r="1.1" fill="#7c7c7c" stroke="#5c5c5c" stroke-width="0.3"/>
<circle cx="108.43" cy="107" r="1.1" fill="#7c7c7c" stroke="#5c5c5c" stroke-width="0.3"/>
<circle cx="100.33" cy="106.34" r="1.1" fill="#7c7c7c" stroke="#5c5c5c" stroke-width="0.3"/>
<circle cx="72.45" cy="107.61" r="1.1" fill="#7c7c7c" stroke="#5c5c5c" stroke-width="0.3"/>
<circle cx="95.4" cy="108.2" r="1.1" fill="#7c7c7c" stroke="#5c5c5c" stroke-width="0.3"/>
<circle cx="79.18" cy="110.04" r="1.1" fill="#7c7c7c" stroke="#5c5c5c" stroke-width="0.3"/>
<circle cx="69.26" cy="110.73" r="1.1" fill="#7c7c7c" stroke="#5c5c5c" stroke-width="0.3"/>
<circle cx="69.86" cy="109.36" r="1.1" fill="#7c7c7c" stroke="#5c5c5c" stroke-width="0.3"/>
<circle cx="74.69" cy="107.43" r="1.1" fill="#7c7c7c" stroke="#5c5c5c" stroke-width="0.3"/>
<circle cx="87.41" cy="108.91" r="1.1" fill="#7c7c7c" stroke="#5c5c5c" stroke-width="0.3"/>
<circle cx="80.09" cy="108.76" r="1.1" fill="#7c7c7c" stroke="#5c5c5c" stroke-width="0.3"/>
<circle cx="87.36" cy="107.19" r="1.1" fill="#7c7c7c" stroke="#5c5c5c" stroke-width="0.3"/>
<circle cx="72.84" cy="110.11" r="1.1" fill="#7c7c7c" stroke="#5c5c5c" stroke-width="0.3"/>
<circle cx="92.87" cy="109.48" r="1.1" fill="#7c7c7c" stroke="#5c5c5c" stroke-width="0.3"/>
<circle cx="104.28" cy="109.99" r="1.1" fill="#7c7c7c" stroke="#5c5c5c" stroke-width="0.3"/>
<circle cx="104.58" cy="107.64" r="1.1" fill="#7c7c7c" stroke="#5c5c5c" stroke-width="0.3"/>
<circle cx="98.25" cy="111.23" r="1.1" fill="#7c7c7c" stroke="#5c5c5c" stroke-width="0.3"/>
<circle cx="107.15" cy="108.16" r="1.1" fill="#7c7c7c" stroke="#5c5c5c" stroke-width="0.3"/>
<circle cx="77.4" cy="111.92" r="1.1" fill="#7c7c7c" stroke="#5c5c5c" stroke-width="0.3"/>
<circle cx="73.39" cy="112.39" r="1.1" fill="#7c7c7c" stroke="#5c5c5c" stroke-width="0.3"/>
<circle cx="106.3" cy="107.03" r="1.1" fill="#7c7c7c" stroke="#5c5c5c" stroke-width="0.3"/>
<circle cx="74.23" cy="110.7" r="1.1" fill="#7c7c7c" stroke="#5c5c5c" stroke-width="0.3"/>
<circle cx="75.06" cy="106.8" r="1.1" fill="#7c7c7c" stroke="#5c5c5c" stroke-width="0.3"/>
<circle cx="103.22" cy="108.81" r="1.1" fill="#7c7c7c" stroke="#5c5c5c" stroke-width="0.3"/>
<circle cx="100.91" cy="106.98" r="1.1" fill="#7c7c7c" stroke="#5c5c5c" stroke-width="0.3"/>
<circle cx="81.32" cy="110.45" r="1.1" fill="#7c7c7c" stroke="#5c5c5c" stroke-width="0.3"/>
<circle cx="66.8" cy="107.45" r="1.1" fill="#7c7c7c" stroke="#5c5c5c" stroke-width="0.3"/>
<circle cx="95.15" cy="111.85" r="1.1" fill="#7c7c7c" stroke="#5c5c5c" stroke-width="0.3"/>
<circle cx="110.88" cy="106.92" r="1.1" fill="#7c7c7c" stroke="#5c5c5c" stroke-width="0.3"/>
<circle cx="86.2" cy="110.9" r="1.1" fill="#7c7c7c" stroke="#5c5c5c" stroke-width="0.3"/>
<circle cx="86.06" cy="110.45" r="1.1" fill="#7c7c7c" stroke="#5c5c5c" stroke-width="0.3"/>
<circle cx="72.26" cy="106.64" r="1.1" fill="#7c7c7c" stroke="#5c5c5c" stroke-width="0.3"/>
<circle cx="69.3" cy="106.43" r="1.1" fill="#7c7c7c" stroke="#5c5c5c" stroke-width="0.3"/>
<circle cx="88.47" cy="109.39" r="1.1" fill="#7c7c7c" stroke="#5c5c5c" stroke-width="0.3"/>
<circle cx="89.32" cy="107.11" r="1.1" fill="#7c7c7c" stroke="#5c5c5c" stroke-width="0.3"/>
<circle cx="72.09" cy="107.46" r="1.1" fill="#7c7c7c" stroke="#5c5c5c" stroke-width="0.3"/>
<circle cx="103.66" cy="112.34" r="1.1" fill="#7c7c7c" stroke="#5c5c5c" stroke-width="0.3"/>
<circle cx="108.52" cy="106.79" r="1.1" fill="#7c7c7c" stroke="#5c5c5c" stroke-width="0.3"/>
<circle cx="67.93" cy="112.1" r="1.1" fill="#7c7c7c" stroke="#5c5c5c" stroke-width="0.3"/>
<circle cx="84.1" cy="110.94" r="1.1" fill="#7c7c7c" stroke="#5c5c5c" stroke-width="0.3"/>
<circle cx="77.92" cy="109.1" r="1.1" fill="#7c7c7c" stroke="#5c5c5c" stroke-width="0.3"/>
<circle cx="86.67" cy="108.87" r="1.1" fill="#7c7c7c" stroke="#5c5c5c" stroke-width="0.3"/>
<circle cx="90.94" cy="106.28" r="1.1" fill="#7c7c7c" stroke="#5c5c5c" stroke-width="0.3"/>
<circle cx="96.14" cy="111.43" r="1.1" fill="#7c7c7c" stroke="#5c5c5c" stroke-width="0.3"/>
<circle cx="71.96" cy="109.01" r="1.1" fill="#7c7c7c" stroke="#5c5c5c" stroke-width="0.3"/>
<circle cx="98.17" cy="108.71" r="1.1" fill="#7c7c7c" stroke="#5c5c5c" stroke-width="0.3"/>
<circle cx="72.49" cy="107.22" r="1.1" fill="#7c7c7c" stroke="#5c5c5c" stroke-width="0.3"/>
<circle cx="86.54" cy="106.3" r="1.1" fill="#7c7c7c" stroke="#5c5c5c" stroke-width="0.3"/>
<circle cx="106.62" cy="111.17" r="1.1" fill="#7c7c7c" stroke="#5c5c5c" stroke-width="0.3"/>
<circle cx="96.33" cy="111.54" r="1.1" fill="#7c7c7c" stroke="#5c5c5c" stroke-width="0.3"/>
<circle cx="92.4" cy="108.71" r="1.1" fill="#7c7c7c" stroke="#5c5c5c" stroke-width="0.3"/>
<circle cx="90.88" cy="109.33" r="1.1" fill="#7c7c7c" stroke="#5c5c5c" stroke-width="0.3"/>
<circle cx="111.7" cy="111.19" r="1.1" fill="#7c7c7c" stroke="#5c5c5c" stroke-width="0.3"/>
<circle cx="75.01" cy="111.85" r="1.1" fill="#7c7c7c" stroke="#5c5c5c" stroke-width="0.3"/>
<circle cx="98.45" cy="111.02" r="1.1" fill="#7c7c7c" stroke="#5c5c5c" stroke-width="0.3"/>
<circle cx="102.26" cy="108.71" r="1.1" fill="#7c7c7c" stroke="#5c5c5c" stroke-width="0.3"/>
<circle cx="106.8" cy="111.66" r="1.1" fill="#7c7c7c" stroke="#5c5c5c" stroke-width="0.3"/>
<circle cx="95.81" cy="110.96" r="1.1" fill="#7c7c7c" stroke="#5c5c5c" stroke-width="0.3"/>
<circle cx="99.57" cy="108.72" r="1.1" fill="#7c7c7c" stroke="#5c5c5c" stroke-width="0.3"/>
<line x1="38" y1="30.4" x2="139.2" y2="30.4" stroke="#2a2a2a" stroke-width="1.2"/>
<line x1="41.2" y1="119.6" x2="139.2" y2="119.6" stroke="#2a2a2a" stroke-width="1.3"/>
<line x1="41.2" y1="26" x2="41.2" y2="120.2" stroke="#2a2a2a" stroke-width="1.4"/>
<line x1="46" y1="26" x2="46" y2="122.8" stroke="#4a4a4a" stroke-width="1.3"/>
<line x1="66.6" y1="26" x2="66.6" y2="122.8" stroke="#000" stroke-width="1" stroke-dasharray="1.8,1.4"/>
<line x1="98" y1="119.6" x2="98" y2="122.6" stroke="#222" stroke-width="0.9"/>
<line x1="124.25" y1="119.6" x2="124.25" y2="122.6" stroke="#222" stroke-width="0.9"/>
<text x="35.2" y="32.02" font-size="6.2" text-anchor="end" fill="#222" font-weight="normal" stroke="#222" stroke-width="0.22">40</text>
<text x="35.2" y="106.72" font-size="6.2" text-anchor="end" fill="#222" font-weight="normal" stroke="#222" stroke-width="0.22">5</text>
<text x="35.2" y="115.12" font-size="6.2" text-anchor="end" fill="#4a2a30" font-weight="normal" stroke="#4a2a30" stroke-width="0.22">1</text>
<text x="46.02" y="131.62" font-size="6.2" text-anchor="middle" fill="#222" font-weight="normal" stroke="#222" stroke-width="0.22">1</text>
<text x="66.5" y="131.62" font-size="6.2" text-anchor="middle" fill="#222" font-weight="normal" stroke="#222" stroke-width="0.22">40</text>
<text x="98" y="131.62" font-size="6.2" text-anchor="middle" fill="#222" font-weight="normal" stroke="#222" stroke-width="0.22">100</text>
<text x="124.25" y="131.62" font-size="6.2" text-anchor="middle" fill="#222" font-weight="normal" stroke="#222" stroke-width="0.22">150</text>
<text x="90.3" y="141.86" font-size="6.6" text-anchor="middle" fill="#222" font-weight="normal" stroke="#222" stroke-width="0.25" textLength="36" lengthAdjust="spacingAndGlyphs">FIX:Ag (U/dL)</text>
<text transform="translate(20.2,72.7) rotate(-90)" x="0" y="2.58" font-size="7.2" text-anchor="middle" fill="#222" font-weight="normal" stroke="#222" stroke-width="0.35" textLength="31.4" lengthAdjust="spacingAndGlyphs">FIX:Act (%)</text>
<text x="137.2" y="37.82" font-size="6.2" text-anchor="end" fill="#222" font-weight="normal" stroke="#222" stroke-width="0.2" textLength="29.1" lengthAdjust="spacingAndGlyphs">rho = 0.13</text>
<rect x="213.97" y="36.8" width="64.37" height="78.4" fill="#eaeaec"/>
<rect x="194.18" y="100.35" width="2.33" height="14.85" fill="#289dce" stroke="#18709c" stroke-width="0.5"/>
<rect x="196.5" y="73.62" width="2.33" height="41.58" fill="#289dce" stroke="#18709c" stroke-width="0.5"/>
<rect x="198.83" y="40.95" width="2.33" height="74.25" fill="#289dce" stroke="#18709c" stroke-width="0.5"/>
<rect x="201.16" y="73.62" width="2.33" height="41.58" fill="#289dce" stroke="#18709c" stroke-width="0.5"/>
<rect x="203.49" y="94.41" width="2.33" height="20.79" fill="#289dce" stroke="#18709c" stroke-width="0.5"/>
<rect x="205.82" y="91.44" width="2.33" height="23.76" fill="#289dce" stroke="#18709c" stroke-width="0.5"/>
<rect x="208.15" y="79.56" width="2.33" height="35.64" fill="#289dce" stroke="#18709c" stroke-width="0.5"/>
<rect x="210.48" y="97.38" width="2.33" height="17.82" fill="#289dce" stroke="#18709c" stroke-width="0.5"/>
<rect x="212.81" y="106.29" width="2.33" height="8.91" fill="#289dce" stroke="#18709c" stroke-width="0.5"/>
<rect x="215.14" y="103.32" width="2.33" height="11.88" fill="#289dce" stroke="#18709c" stroke-width="0.5"/>
<rect x="217.47" y="100.35" width="2.33" height="14.85" fill="#289dce" stroke="#18709c" stroke-width="0.5"/>
<rect x="219.79" y="106.29" width="2.33" height="8.91" fill="#289dce" stroke="#18709c" stroke-width="0.5"/>
<rect x="222.12" y="91.44" width="2.33" height="23.76" fill="#289dce" stroke="#18709c" stroke-width="0.5"/>
<rect x="224.45" y="109.26" width="2.33" height="5.94" fill="#289dce" stroke="#18709c" stroke-width="0.5"/>
<rect x="226.78" y="97.38" width="2.33" height="17.82" fill="#289dce" stroke="#18709c" stroke-width="0.5"/>
<rect x="229.11" y="106.29" width="2.33" height="8.91" fill="#289dce" stroke="#18709c" stroke-width="0.5"/>
<rect x="231.44" y="97.38" width="2.33" height="17.82" fill="#289dce" stroke="#18709c" stroke-width="0.5"/>
<rect x="233.77" y="109.26" width="2.33" height="5.94" fill="#289dce" stroke="#18709c" stroke-width="0.5"/>
<rect x="236.1" y="106.29" width="2.33" height="8.91" fill="#289dce" stroke="#18709c" stroke-width="0.5"/>
<rect x="238.43" y="103.32" width="2.33" height="11.88" fill="#289dce" stroke="#18709c" stroke-width="0.5"/>
<rect x="240.76" y="88.47" width="2.33" height="26.73" fill="#289dce" stroke="#18709c" stroke-width="0.5"/>
<rect x="243.08" y="109.26" width="2.33" height="5.94" fill="#289dce" stroke="#18709c" stroke-width="0.5"/>
<rect x="245.41" y="103.32" width="2.33" height="11.88" fill="#289dce" stroke="#18709c" stroke-width="0.5"/>
<rect x="247.74" y="109.26" width="2.33" height="5.94" fill="#289dce" stroke="#18709c" stroke-width="0.5"/>
<rect x="250.07" y="106.29" width="2.33" height="8.91" fill="#289dce" stroke="#18709c" stroke-width="0.5"/>
<rect x="254.73" y="109.26" width="2.33" height="5.94" fill="#289dce" stroke="#18709c" stroke-width="0.5"/>
<rect x="259.39" y="112.23" width="2.33" height="2.97" fill="#289dce" stroke="#18709c" stroke-width="0.5"/>
<rect x="264.05" y="103.32" width="2.33" height="11.88" fill="#289dce" stroke="#18709c" stroke-width="0.5"/>
<rect x="268.7" y="106.29" width="2.33" height="8.91" fill="#289dce" stroke="#18709c" stroke-width="0.5"/>
<line x1="192.18" y1="115.2" x2="272.03" y2="115.2" stroke="#222" stroke-width="0.8"/>
<line x1="186.64" y1="37.2" x2="186.64" y2="119.4" stroke="#1a1a1a" stroke-width="1.25"/>
<line x1="186.64" y1="119.2" x2="277.94" y2="119.2" stroke="#1a1a1a" stroke-width="1.25"/>
<line x1="183.44" y1="115.2" x2="186.64" y2="115.2" stroke="#222" stroke-width="0.8"/>
<text x="179.84" y="116.82" font-size="6.2" text-anchor="end" fill="#222" font-weight="normal" stroke="#222" stroke-width="0.18">0</text>
<line x1="183.44" y1="100.35" x2="186.64" y2="100.35" stroke="#222" stroke-width="0.8"/>
<text x="179.84" y="101.97" font-size="6.2" text-anchor="end" fill="#222" font-weight="normal" stroke="#222" stroke-width="0.18">5</text>
<line x1="183.44" y1="85.5" x2="186.64" y2="85.5" stroke="#222" stroke-width="0.8"/>
<text x="179.84" y="87.12" font-size="6.2" text-anchor="end" fill="#222" font-weight="normal" stroke="#222" stroke-width="0.18">10</text>
<line x1="183.44" y1="70.65" x2="186.64" y2="70.65" stroke="#222" stroke-width="0.8"/>
<text x="179.84" y="72.27" font-size="6.2" text-anchor="end" fill="#222" font-weight="normal" stroke="#222" stroke-width="0.18">15</text>
<line x1="183.44" y1="55.8" x2="186.64" y2="55.8" stroke="#222" stroke-width="0.8"/>
<text x="179.84" y="57.42" font-size="6.2" text-anchor="end" fill="#222" font-weight="normal" stroke="#222" stroke-width="0.18">20</text>
<line x1="183.44" y1="40.95" x2="186.64" y2="40.95" stroke="#222" stroke-width="0.8"/>
<text x="179.84" y="42.57" font-size="6.2" text-anchor="end" fill="#222" font-weight="normal" stroke="#222" stroke-width="0.18">25</text>
<line x1="195.81" y1="119.2" x2="195.81" y2="121.9" stroke="#222" stroke-width="0.8"/>
<text x="195.81" y="130.76" font-size="6.3" text-anchor="middle" fill="#222" font-weight="normal" stroke="#222" stroke-width="0.18">1</text>
<line x1="218.63" y1="119.2" x2="218.63" y2="121.9" stroke="#222" stroke-width="0.8"/>
<text x="218.63" y="130.76" font-size="6.3" text-anchor="middle" fill="#222" font-weight="normal" stroke="#222" stroke-width="0.18">50</text>
<line x1="241.92" y1="119.2" x2="241.92" y2="121.9" stroke="#222" stroke-width="0.8"/>
<text x="241.92" y="130.76" font-size="6.3" text-anchor="middle" fill="#222" font-weight="normal" stroke="#222" stroke-width="0.18">100</text>
<line x1="265.21" y1="119.2" x2="265.21" y2="121.9" stroke="#222" stroke-width="0.8"/>
<text x="265.21" y="130.76" font-size="6.3" text-anchor="middle" fill="#222" font-weight="normal" stroke="#222" stroke-width="0.18">150</text>
<text x="234.4" y="28" font-size="8.1" text-anchor="middle" fill="#222" font-weight="normal" stroke="#222" stroke-width="0.18">Mild</text>
<text x="275.34" y="34.42" font-size="6.2" text-anchor="end" fill="#222" font-weight="normal" stroke="#222" stroke-width="0.18">N = 171</text>
<text x="215.64" y="44.92" font-size="6.2" text-anchor="start" fill="#222" font-weight="normal" stroke="#222" stroke-width="0.18">33 (12-80) U/dL</text>
<text x="215.64" y="52.62" font-size="6.2" text-anchor="start" fill="#222" font-weight="normal" stroke="#222" stroke-width="0.18" textLength="61" lengthAdjust="spacingAndGlyphs">47% FIX:Ag &#8805;40 U/dL</text>
<rect x="331.33" y="36.8" width="64.37" height="78.4" fill="#eaeaec"/>
<rect x="311.54" y="63.7" width="2.33" height="51.5" fill="#e0ad22" stroke="#a87a0c" stroke-width="0.5"/>
<rect x="313.86" y="41.04" width="2.33" height="74.16" fill="#e0ad22" stroke="#a87a0c" stroke-width="0.5"/>
<rect x="316.19" y="80.18" width="2.33" height="35.02" fill="#e0ad22" stroke="#a87a0c" stroke-width="0.5"/>
<rect x="318.52" y="96.66" width="2.33" height="18.54" fill="#e0ad22" stroke="#a87a0c" stroke-width="0.5"/>
<rect x="320.85" y="102.84" width="2.33" height="12.36" fill="#e0ad22" stroke="#a87a0c" stroke-width="0.5"/>
<rect x="323.18" y="102.84" width="2.33" height="12.36" fill="#e0ad22" stroke="#a87a0c" stroke-width="0.5"/>
<rect x="325.51" y="92.54" width="2.33" height="22.66" fill="#e0ad22" stroke="#a87a0c" stroke-width="0.5"/>
<rect x="327.84" y="100.78" width="2.33" height="14.42" fill="#e0ad22" stroke="#a87a0c" stroke-width="0.5"/>
<rect x="330.17" y="96.66" width="2.33" height="18.54" fill="#e0ad22" stroke="#a87a0c" stroke-width="0.5"/>
<rect x="332.5" y="96.66" width="2.33" height="18.54" fill="#e0ad22" stroke="#a87a0c" stroke-width="0.5"/>
<rect x="334.83" y="94.6" width="2.33" height="20.6" fill="#e0ad22" stroke="#a87a0c" stroke-width="0.5"/>
<rect x="337.15" y="102.84" width="2.33" height="12.36" fill="#e0ad22" stroke="#a87a0c" stroke-width="0.5"/>
<rect x="339.48" y="84.3" width="2.33" height="30.9" fill="#e0ad22" stroke="#a87a0c" stroke-width="0.5"/>
<rect x="341.81" y="104.9" width="2.33" height="10.3" fill="#e0ad22" stroke="#a87a0c" stroke-width="0.5"/>
<rect x="344.14" y="106.96" width="2.33" height="8.24" fill="#e0ad22" stroke="#a87a0c" stroke-width="0.5"/>
<rect x="346.47" y="98.72" width="2.33" height="16.48" fill="#e0ad22" stroke="#a87a0c" stroke-width="0.5"/>
<rect x="348.8" y="100.78" width="2.33" height="14.42" fill="#e0ad22" stroke="#a87a0c" stroke-width="0.5"/>
<rect x="351.13" y="109.02" width="2.33" height="6.18" fill="#e0ad22" stroke="#a87a0c" stroke-width="0.5"/>
<rect x="353.46" y="96.66" width="2.33" height="18.54" fill="#e0ad22" stroke="#a87a0c" stroke-width="0.5"/>
<rect x="355.79" y="98.72" width="2.33" height="16.48" fill="#e0ad22" stroke="#a87a0c" stroke-width="0.5"/>
<rect x="358.12" y="98.72" width="2.33" height="16.48" fill="#e0ad22" stroke="#a87a0c" stroke-width="0.5"/>
<rect x="360.44" y="109.02" width="2.33" height="6.18" fill="#e0ad22" stroke="#a87a0c" stroke-width="0.5"/>
<rect x="362.77" y="109.02" width="2.33" height="6.18" fill="#e0ad22" stroke="#a87a0c" stroke-width="0.5"/>
<rect x="365.1" y="111.08" width="2.33" height="4.12" fill="#e0ad22" stroke="#a87a0c" stroke-width="0.5"/>
<rect x="367.43" y="100.78" width="2.33" height="14.42" fill="#e0ad22" stroke="#a87a0c" stroke-width="0.5"/>
<rect x="369.76" y="113.14" width="2.33" height="2.06" fill="#e0ad22" stroke="#a87a0c" stroke-width="0.5"/>
<rect x="372.09" y="111.08" width="2.33" height="4.12" fill="#e0ad22" stroke="#a87a0c" stroke-width="0.5"/>
<rect x="376.75" y="109.02" width="2.33" height="6.18" fill="#e0ad22" stroke="#a87a0c" stroke-width="0.5"/>
<rect x="379.08" y="113.14" width="2.33" height="2.06" fill="#e0ad22" stroke="#a87a0c" stroke-width="0.5"/>
<rect x="381.41" y="111.08" width="2.33" height="4.12" fill="#e0ad22" stroke="#a87a0c" stroke-width="0.5"/>
<line x1="309.54" y1="115.2" x2="384.73" y2="115.2" stroke="#222" stroke-width="0.8"/>
<line x1="304" y1="37.2" x2="304" y2="119.4" stroke="#1a1a1a" stroke-width="1.25"/>
<line x1="304" y1="119.2" x2="395.3" y2="119.2" stroke="#1a1a1a" stroke-width="1.25"/>
<line x1="300.8" y1="115.2" x2="304" y2="115.2" stroke="#222" stroke-width="0.8"/>
<text x="297.2" y="116.82" font-size="6.2" text-anchor="end" fill="#222" font-weight="normal" stroke="#222" stroke-width="0.18">0</text>
<line x1="300.8" y1="94.6" x2="304" y2="94.6" stroke="#222" stroke-width="0.8"/>
<text x="297.2" y="96.22" font-size="6.2" text-anchor="end" fill="#222" font-weight="normal" stroke="#222" stroke-width="0.18">10</text>
<line x1="300.8" y1="74" x2="304" y2="74" stroke="#222" stroke-width="0.8"/>
<text x="297.2" y="75.62" font-size="6.2" text-anchor="end" fill="#222" font-weight="normal" stroke="#222" stroke-width="0.18">20</text>
<line x1="300.8" y1="53.4" x2="304" y2="53.4" stroke="#222" stroke-width="0.8"/>
<text x="297.2" y="55.02" font-size="6.2" text-anchor="end" fill="#222" font-weight="normal" stroke="#222" stroke-width="0.18">30</text>
<line x1="313.17" y1="119.2" x2="313.17" y2="121.9" stroke="#222" stroke-width="0.8"/>
<text x="313.17" y="130.76" font-size="6.3" text-anchor="middle" fill="#222" font-weight="normal" stroke="#222" stroke-width="0.18">1</text>
<line x1="335.99" y1="119.2" x2="335.99" y2="121.9" stroke="#222" stroke-width="0.8"/>
<text x="335.99" y="130.76" font-size="6.3" text-anchor="middle" fill="#222" font-weight="normal" stroke="#222" stroke-width="0.18">50</text>
<line x1="359.28" y1="119.2" x2="359.28" y2="121.9" stroke="#222" stroke-width="0.8"/>
<text x="359.28" y="130.76" font-size="6.3" text-anchor="middle" fill="#222" font-weight="normal" stroke="#222" stroke-width="0.18">100</text>
<line x1="382.57" y1="119.2" x2="382.57" y2="121.9" stroke="#222" stroke-width="0.8"/>
<text x="382.57" y="130.76" font-size="6.3" text-anchor="middle" fill="#222" font-weight="normal" stroke="#222" stroke-width="0.18">150</text>
<text x="350.35" y="28" font-size="8.1" text-anchor="middle" fill="#222" font-weight="normal" stroke="#222" stroke-width="0.18">Moderate</text>
<text x="392.7" y="34.42" font-size="6.2" text-anchor="end" fill="#222" font-weight="normal" stroke="#222" stroke-width="0.18">N = 244</text>
<text x="333" y="44.92" font-size="6.2" text-anchor="start" fill="#222" font-weight="normal" stroke="#222" stroke-width="0.18">40 (8-78) U/dL</text>
<text x="333" y="52.62" font-size="6.2" text-anchor="start" fill="#222" font-weight="normal" stroke="#222" stroke-width="0.18" textLength="61" lengthAdjust="spacingAndGlyphs">50% FIX:Ag &#8805;40 U/dL</text>
<rect x="448.63" y="36.8" width="64.37" height="78.4" fill="#eaeaec"/>
<rect x="428.84" y="41.42" width="2.33" height="73.78" fill="#a3163a" stroke="#600a20" stroke-width="0.5"/>
<rect x="431.16" y="99.09" width="2.33" height="16.11" fill="#a3163a" stroke="#600a20" stroke-width="0.5"/>
<rect x="433.49" y="105.02" width="2.33" height="10.18" fill="#a3163a" stroke="#600a20" stroke-width="0.5"/>
<rect x="435.82" y="110.96" width="2.33" height="4.24" fill="#a3163a" stroke="#600a20" stroke-width="0.5"/>
<rect x="438.15" y="112.66" width="2.33" height="2.54" fill="#a3163a" stroke="#600a20" stroke-width="0.5"/>
<rect x="440.48" y="110.96" width="2.33" height="4.24" fill="#a3163a" stroke="#600a20" stroke-width="0.5"/>
<rect x="442.81" y="111.81" width="2.33" height="3.39" fill="#a3163a" stroke="#600a20" stroke-width="0.5"/>
<rect x="445.14" y="106.72" width="2.33" height="8.48" fill="#a3163a" stroke="#600a20" stroke-width="0.5"/>
<rect x="447.47" y="109.26" width="2.33" height="5.94" fill="#a3163a" stroke="#600a20" stroke-width="0.5"/>
<rect x="449.8" y="110.96" width="2.33" height="4.24" fill="#a3163a" stroke="#600a20" stroke-width="0.5"/>
<rect x="452.13" y="106.72" width="2.33" height="8.48" fill="#a3163a" stroke="#600a20" stroke-width="0.5"/>
<rect x="454.45" y="110.11" width="2.33" height="5.09" fill="#a3163a" stroke="#600a20" stroke-width="0.5"/>
<rect x="456.78" y="113.5" width="2.33" height="1.7" fill="#a3163a" stroke="#600a20" stroke-width="0.5"/>
<rect x="459.11" y="110.11" width="2.33" height="5.09" fill="#a3163a" stroke="#600a20" stroke-width="0.5"/>
<rect x="461.44" y="112.66" width="2.33" height="2.54" fill="#a3163a" stroke="#600a20" stroke-width="0.5"/>
<rect x="463.77" y="111.81" width="2.33" height="3.39" fill="#a3163a" stroke="#600a20" stroke-width="0.5"/>
<rect x="468.43" y="110.11" width="2.33" height="5.09" fill="#a3163a" stroke="#600a20" stroke-width="0.5"/>
<rect x="470.76" y="110.11" width="2.33" height="5.09" fill="#a3163a" stroke="#600a20" stroke-width="0.5"/>
<rect x="473.09" y="111.81" width="2.33" height="3.39" fill="#a3163a" stroke="#600a20" stroke-width="0.5"/>
<rect x="475.42" y="98.24" width="2.33" height="16.96" fill="#a3163a" stroke="#600a20" stroke-width="0.5"/>
<rect x="480.07" y="111.81" width="2.33" height="3.39" fill="#a3163a" stroke="#600a20" stroke-width="0.5"/>
<rect x="482.4" y="113.5" width="2.33" height="1.7" fill="#a3163a" stroke="#600a20" stroke-width="0.5"/>
<rect x="484.73" y="109.26" width="2.33" height="5.94" fill="#a3163a" stroke="#600a20" stroke-width="0.5"/>
<rect x="489.39" y="111.81" width="2.33" height="3.39" fill="#a3163a" stroke="#600a20" stroke-width="0.5"/>
<rect x="491.72" y="113.5" width="2.33" height="1.7" fill="#a3163a" stroke="#600a20" stroke-width="0.5"/>
<rect x="498.71" y="114.35" width="2.33" height="0.85" fill="#a3163a" stroke="#600a20" stroke-width="0.5"/>
<rect x="501.03" y="114.35" width="2.33" height="0.85" fill="#a3163a" stroke="#600a20" stroke-width="0.5"/>
<rect x="503.36" y="114.35" width="2.33" height="0.85" fill="#a3163a" stroke="#600a20" stroke-width="0.5"/>
<line x1="426.84" y1="115.2" x2="511.35" y2="115.2" stroke="#222" stroke-width="0.8"/>
<line x1="421.3" y1="37.2" x2="421.3" y2="119.4" stroke="#1a1a1a" stroke-width="1.25"/>
<line x1="421.3" y1="119.2" x2="512.6" y2="119.2" stroke="#1a1a1a" stroke-width="1.25"/>
<line x1="418.1" y1="115.2" x2="421.3" y2="115.2" stroke="#222" stroke-width="0.8"/>
<text x="414.5" y="116.82" font-size="6.2" text-anchor="end" fill="#222" font-weight="normal" stroke="#222" stroke-width="0.18">0</text>
<line x1="418.1" y1="94" x2="421.3" y2="94" stroke="#222" stroke-width="0.8"/>
<text x="414.5" y="95.62" font-size="6.2" text-anchor="end" fill="#222" font-weight="normal" stroke="#222" stroke-width="0.18">25</text>
<line x1="418.1" y1="72.8" x2="421.3" y2="72.8" stroke="#222" stroke-width="0.8"/>
<text x="414.5" y="74.42" font-size="6.2" text-anchor="end" fill="#222" font-weight="normal" stroke="#222" stroke-width="0.18">50</text>
<line x1="418.1" y1="51.6" x2="421.3" y2="51.6" stroke="#222" stroke-width="0.8"/>
<text x="414.5" y="53.22" font-size="6.2" text-anchor="end" fill="#222" font-weight="normal" stroke="#222" stroke-width="0.18">75</text>
<line x1="430.47" y1="119.2" x2="430.47" y2="121.9" stroke="#222" stroke-width="0.8"/>
<text x="430.47" y="130.76" font-size="6.3" text-anchor="middle" fill="#222" font-weight="normal" stroke="#222" stroke-width="0.18">1</text>
<line x1="453.29" y1="119.2" x2="453.29" y2="121.9" stroke="#222" stroke-width="0.8"/>
<text x="453.29" y="130.76" font-size="6.3" text-anchor="middle" fill="#222" font-weight="normal" stroke="#222" stroke-width="0.18">50</text>
<line x1="476.58" y1="119.2" x2="476.58" y2="121.9" stroke="#222" stroke-width="0.8"/>
<text x="476.58" y="130.76" font-size="6.3" text-anchor="middle" fill="#222" font-weight="normal" stroke="#222" stroke-width="0.18">100</text>
<line x1="499.87" y1="119.2" x2="499.87" y2="121.9" stroke="#222" stroke-width="0.8"/>
<text x="499.87" y="130.76" font-size="6.3" text-anchor="middle" fill="#222" font-weight="normal" stroke="#222" stroke-width="0.18">150</text>
<text x="466.55" y="28" font-size="8.1" text-anchor="middle" fill="#222" font-weight="normal" stroke="#222" stroke-width="0.18">Severe</text>
<text x="510" y="34.42" font-size="6.2" text-anchor="end" fill="#222" font-weight="normal" stroke="#222" stroke-width="0.18">N = 248</text>
<text x="450.3" y="44.92" font-size="6.2" text-anchor="start" fill="#222" font-weight="normal" stroke="#222" stroke-width="0.18">17 (1-72) U/dL</text>
<text x="450.3" y="52.62" font-size="6.2" text-anchor="start" fill="#222" font-weight="normal" stroke="#222" stroke-width="0.18" textLength="61" lengthAdjust="spacingAndGlyphs">40% FIX:Ag &#8805;40 U/dL</text>
<text transform="translate(165.1,78.3) rotate(-90)" x="0" y="2.72" font-size="7.6" text-anchor="middle" fill="#222" font-weight="normal" stroke="#222" stroke-width="0.4" textLength="14.8" lengthAdjust="spacingAndGlyphs">Count</text>
<text x="349.4" y="140.96" font-size="6.6" text-anchor="middle" fill="#222" font-weight="normal" stroke="#222" stroke-width="0.18" textLength="35.8" lengthAdjust="spacingAndGlyphs">FIX:Ag (U/dL)</text>
<line x1="81.4" y1="160" x2="81.4" y2="354.4" stroke="#1a1a1a" stroke-width="1.25"/>
<line x1="81.4" y1="354.2" x2="478" y2="354.2" stroke="#1a1a1a" stroke-width="1.25"/>
<line x1="78.4" y1="344.9" x2="81.4" y2="344.9" stroke="#222" stroke-width="0.8"/>
<text x="75.3" y="346.52" font-size="6.2" text-anchor="end" fill="#222" font-weight="normal" stroke="#222" stroke-width="0.18">0</text>
<line x1="78.4" y1="288.45" x2="81.4" y2="288.45" stroke="#222" stroke-width="0.8"/>
<text x="75.3" y="290.07" font-size="6.2" text-anchor="end" fill="#222" font-weight="normal" stroke="#222" stroke-width="0.18">50</text>
<line x1="78.4" y1="232" x2="81.4" y2="232" stroke="#222" stroke-width="0.8"/>
<text x="75.3" y="233.62" font-size="6.2" text-anchor="end" fill="#222" font-weight="normal" stroke="#222" stroke-width="0.18">100</text>
<line x1="78.4" y1="175.55" x2="81.4" y2="175.55" stroke="#222" stroke-width="0.8"/>
<text x="75.3" y="177.17" font-size="6.2" text-anchor="end" fill="#222" font-weight="normal" stroke="#222" stroke-width="0.18">150</text>
<text transform="translate(56.4,253) rotate(-90)" x="0" y="2.58" font-size="7.2" text-anchor="middle" fill="#222" font-weight="normal" stroke="#222" stroke-width="0.4" textLength="37.4" lengthAdjust="spacingAndGlyphs">FIX:Ag/FIX:Act</text>
<text x="84.6" y="165.82" font-size="6.2" text-anchor="start" fill="#222" font-weight="normal" stroke="#222" stroke-width="0.18" textLength="118" lengthAdjust="spacingAndGlyphs">Cases (n = 663); Unique variants (n = 280)</text>
<text x="84.6" y="176.72" font-size="6.2" text-anchor="start" fill="#222" font-weight="normal" stroke="#222" stroke-width="0.18" textLength="58.5" lengthAdjust="spacingAndGlyphs">Hemophilia B severity</text>
<circle cx="88.3" cy="186.1" r="1.5" fill="#2992b4" stroke="#1d3440" stroke-width="0.7"/>
<text x="92.5" y="187.62" font-size="6.2" text-anchor="start" fill="#222" font-weight="normal" stroke="#222" stroke-width="0.18" textLength="37.7" lengthAdjust="spacingAndGlyphs">Mild (n = 171)</text>
<circle cx="132.9" cy="186.1" r="1.5" fill="#f0d592" stroke="#8a6620" stroke-width="0.7"/>
<text x="136.3" y="187.62" font-size="6.2" text-anchor="start" fill="#222" font-weight="normal" stroke="#222" stroke-width="0.18" textLength="55.2" lengthAdjust="spacingAndGlyphs">Moderate (n = 244)</text>
<circle cx="195.8" cy="186.1" r="1.5" fill="#b0161f" stroke="#5a1212" stroke-width="0.7"/>
<text x="200.4" y="187.62" font-size="6.2" text-anchor="start" fill="#222" font-weight="normal" stroke="#222" stroke-width="0.18" textLength="45.7" lengthAdjust="spacingAndGlyphs">Severe (n = 248)</text>
<line x1="130.9" y1="344.9" x2="130.9" y2="234.3" stroke="#d6d6d9" stroke-width="1.5"/>
<line x1="131.6" y1="344.9" x2="131.6" y2="240" stroke="#d6d6d9" stroke-width="1.5"/>
<line x1="133.6" y1="344.9" x2="133.6" y2="254.8" stroke="#d6d6d9" stroke-width="1.5"/>
<line x1="140" y1="344.9" x2="140" y2="232.3" stroke="#d6d6d9" stroke-width="1.5"/>
<line x1="143.2" y1="344.9" x2="143.2" y2="227.5" stroke="#d6d6d9" stroke-width="1.5"/>
<line x1="147.7" y1="344.9" x2="147.7" y2="232" stroke="#d6d6d9" stroke-width="1.5"/>
<line x1="150.2" y1="344.9" x2="150.2" y2="286.1" stroke="#d6d6d9" stroke-width="1.5"/>
<line x1="154.5" y1="344.9" x2="154.5" y2="243.4" stroke="#d6d6d9" stroke-width="1.5"/>
<line x1="155.2" y1="344.9" x2="155.2" y2="243.4" stroke="#d6d6d9" stroke-width="1.5"/>
<line x1="137.3" y1="344.9" x2="137.3" y2="310" stroke="#d6d6d9" stroke-width="1.5"/>
<line x1="151.8" y1="344.9" x2="151.8" y2="294" stroke="#d6d6d9" stroke-width="1.5"/>
<line x1="173.4" y1="344.9" x2="173.4" y2="216.3" stroke="#d6d6d9" stroke-width="1.5"/>
<line x1="171" y1="344.9" x2="171" y2="243.4" stroke="#d6d6d9" stroke-width="1.5"/>
<line x1="184.4" y1="344.9" x2="184.4" y2="300.7" stroke="#d6d6d9" stroke-width="1.5"/>
<line x1="195.4" y1="344.9" x2="195.4" y2="250.2" stroke="#d6d6d9" stroke-width="1.5"/>
<line x1="206.3" y1="344.9" x2="206.3" y2="247.8" stroke="#d6d6d9" stroke-width="1.5"/>
<line x1="208.3" y1="344.9" x2="208.3" y2="250.2" stroke="#d6d6d9" stroke-width="1.5"/>
<line x1="203.4" y1="344.9" x2="203.4" y2="318" stroke="#d6d6d9" stroke-width="1.5"/>
<line x1="248.6" y1="344.9" x2="248.6" y2="265.7" stroke="#d6d6d9" stroke-width="1.5"/>
<line x1="276.7" y1="344.9" x2="276.7" y2="198.4" stroke="#d6d6d9" stroke-width="1.5"/>
<line x1="277.6" y1="344.9" x2="277.6" y2="209" stroke="#d6d6d9" stroke-width="1.5"/>
<line x1="284.7" y1="344.9" x2="284.7" y2="288.4" stroke="#d6d6d9" stroke-width="1.5"/>
<line x1="282.2" y1="344.9" x2="282.2" y2="304.7" stroke="#d6d6d9" stroke-width="1.5"/>
<line x1="297.6" y1="344.9" x2="297.6" y2="281.6" stroke="#d6d6d9" stroke-width="1.5"/>
<line x1="234.3" y1="344.9" x2="234.3" y2="333.4" stroke="#d6d6d9" stroke-width="1.5"/>
<line x1="238.4" y1="344.9" x2="238.4" y2="333.4" stroke="#d6d6d9" stroke-width="1.5"/>
<line x1="309.1" y1="344.9" x2="309.1" y2="232.1" stroke="#d6d6d9" stroke-width="1.5"/>
<line x1="328.4" y1="344.9" x2="328.4" y2="303.5" stroke="#d6d6d9" stroke-width="1.5"/>
<line x1="348.1" y1="344.9" x2="348.1" y2="304.7" stroke="#d6d6d9" stroke-width="1.5"/>
<line x1="357.8" y1="344.9" x2="357.8" y2="331" stroke="#d6d6d9" stroke-width="1.5"/>
<line x1="368" y1="344.9" x2="368" y2="318.8" stroke="#d6d6d9" stroke-width="1.5"/>
<line x1="307.7" y1="344.9" x2="307.7" y2="318" stroke="#d6d6d9" stroke-width="1.5"/>
<line x1="368.7" y1="344.9" x2="368.7" y2="319" stroke="#d6d6d9" stroke-width="1.5"/>
<line x1="380.4" y1="344.9" x2="380.4" y2="211.9" stroke="#d6d6d9" stroke-width="1.5"/>
<line x1="382.9" y1="344.9" x2="382.9" y2="231.9" stroke="#d6d6d9" stroke-width="1.5"/>
<line x1="385.4" y1="344.9" x2="385.4" y2="231.9" stroke="#d6d6d9" stroke-width="1.5"/>
<line x1="387.5" y1="344.9" x2="387.5" y2="243.3" stroke="#d6d6d9" stroke-width="1.5"/>
<line x1="398" y1="344.9" x2="398" y2="192.4" stroke="#d6d6d9" stroke-width="1.5"/>
<line x1="400.5" y1="344.9" x2="400.5" y2="287" stroke="#d6d6d9" stroke-width="1.5"/>
<line x1="404.2" y1="344.9" x2="404.2" y2="282.8" stroke="#d6d6d9" stroke-width="1.5"/>
<line x1="406.7" y1="344.9" x2="406.7" y2="210.3" stroke="#d6d6d9" stroke-width="1.5"/>
<line x1="409.8" y1="344.9" x2="409.8" y2="239.6" stroke="#d6d6d9" stroke-width="1.5"/>
<line x1="411.3" y1="344.9" x2="411.3" y2="294.3" stroke="#d6d6d9" stroke-width="1.5"/>
<line x1="415.9" y1="344.9" x2="415.9" y2="260.3" stroke="#d6d6d9" stroke-width="1.5"/>
<line x1="419" y1="344.9" x2="419" y2="231.9" stroke="#d6d6d9" stroke-width="1.5"/>
<line x1="421.5" y1="344.9" x2="421.5" y2="220.2" stroke="#d6d6d9" stroke-width="1.5"/>
<line x1="422.4" y1="344.9" x2="422.4" y2="198" stroke="#d6d6d9" stroke-width="1.5"/>
<line x1="425.8" y1="344.9" x2="425.8" y2="168.6" stroke="#d6d6d9" stroke-width="1.5"/>
<line x1="442.9" y1="344.9" x2="442.9" y2="174.8" stroke="#d6d6d9" stroke-width="1.5"/>
<line x1="448.2" y1="344.9" x2="448.2" y2="218.1" stroke="#d6d6d9" stroke-width="1.5"/>
<line x1="454.4" y1="344.9" x2="454.4" y2="319.1" stroke="#d6d6d9" stroke-width="1.5"/>
<line x1="439.8" y1="344.9" x2="439.8" y2="236.6" stroke="#d6d6d9" stroke-width="1.5"/>
<line x1="441.1" y1="344.9" x2="441.1" y2="211.9" stroke="#d6d6d9" stroke-width="1.5"/>
<line x1="78.4" y1="345.2" x2="478" y2="345.2" stroke="#000" stroke-width="1.2"/>
<circle cx="140.5" cy="335" r="1.5" fill="#2992b4" stroke="#1d3440" stroke-width="0.85"/>
<circle cx="141.6" cy="340" r="1.5" fill="#2992b4" stroke="#1d3440" stroke-width="0.85"/>
<circle cx="156.4" cy="336" r="1.5" fill="#2992b4" stroke="#1d3440" stroke-width="0.85"/>
<circle cx="156.9" cy="342" r="1.5" fill="#2992b4" stroke="#1d3440" stroke-width="0.85"/>
<circle cx="163.2" cy="341.8" r="1.5" fill="#2992b4" stroke="#1d3440" stroke-width="0.85"/>
<circle cx="184.4" cy="332.9" r="1.5" fill="#2992b4" stroke="#1d3440" stroke-width="0.85"/>
<circle cx="171" cy="333.7" r="1.5" fill="#2992b4" stroke="#1d3440" stroke-width="0.85"/>
<circle cx="156.5" cy="336.2" r="1.5" fill="#2992b4" stroke="#1d3440" stroke-width="0.85"/>
<circle cx="156.5" cy="341.5" r="1.5" fill="#2992b4" stroke="#1d3440" stroke-width="0.85"/>
<circle cx="164.2" cy="342.8" r="1.5" fill="#2992b4" stroke="#1d3440" stroke-width="0.85"/>
<circle cx="165.8" cy="342.8" r="1.5" fill="#2992b4" stroke="#1d3440" stroke-width="0.85"/>
<circle cx="168.1" cy="336.9" r="1.5" fill="#2992b4" stroke="#1d3440" stroke-width="0.85"/>
<circle cx="169.6" cy="338.5" r="1.5" fill="#2992b4" stroke="#1d3440" stroke-width="0.85"/>
<circle cx="170.4" cy="333.8" r="1.5" fill="#2992b4" stroke="#1d3440" stroke-width="0.85"/>
<circle cx="171.2" cy="340" r="1.5" fill="#2992b4" stroke="#1d3440" stroke-width="0.85"/>
<circle cx="172.7" cy="341.5" r="1.5" fill="#2992b4" stroke="#1d3440" stroke-width="0.85"/>
<circle cx="174.2" cy="340" r="1.5" fill="#2992b4" stroke="#1d3440" stroke-width="0.85"/>
<circle cx="175.8" cy="339.2" r="1.5" fill="#2992b4" stroke="#1d3440" stroke-width="0.85"/>
<circle cx="177.3" cy="337" r="1.5" fill="#2992b4" stroke="#1d3440" stroke-width="0.85"/>
<circle cx="178.1" cy="340.8" r="1.5" fill="#2992b4" stroke="#1d3440" stroke-width="0.85"/>
<circle cx="179.6" cy="343" r="1.5" fill="#2992b4" stroke="#1d3440" stroke-width="0.85"/>
<circle cx="181.9" cy="340.8" r="1.5" fill="#2992b4" stroke="#1d3440" stroke-width="0.85"/>
<circle cx="183.5" cy="341.5" r="1.5" fill="#2992b4" stroke="#1d3440" stroke-width="0.85"/>
<circle cx="185" cy="340.3" r="1.5" fill="#2992b4" stroke="#1d3440" stroke-width="0.85"/>
<circle cx="186.5" cy="340" r="1.5" fill="#2992b4" stroke="#1d3440" stroke-width="0.85"/>
<circle cx="184.2" cy="332.6" r="1.5" fill="#2992b4" stroke="#1d3440" stroke-width="0.85"/>
<circle cx="194.2" cy="339.2" r="1.5" fill="#2992b4" stroke="#1d3440" stroke-width="0.85"/>
<circle cx="195" cy="341.5" r="1.5" fill="#2992b4" stroke="#1d3440" stroke-width="0.85"/>
<circle cx="218.1" cy="338.5" r="1.5" fill="#2992b4" stroke="#1d3440" stroke-width="0.85"/>
<circle cx="162" cy="343" r="1.5" fill="#2992b4" stroke="#1d3440" stroke-width="0.85"/>
<circle cx="248.6" cy="319.3" r="1.5" fill="#2992b4" stroke="#1d3440" stroke-width="0.85"/>
<circle cx="248.6" cy="323" r="1.5" fill="#2992b4" stroke="#1d3440" stroke-width="0.85"/>
<circle cx="248.6" cy="328.6" r="1.5" fill="#2992b4" stroke="#1d3440" stroke-width="0.85"/>
<circle cx="248.6" cy="335" r="1.5" fill="#2992b4" stroke="#1d3440" stroke-width="0.85"/>
<circle cx="248.6" cy="338.4" r="1.5" fill="#2992b4" stroke="#1d3440" stroke-width="0.85"/>
<circle cx="248.6" cy="341" r="1.5" fill="#2992b4" stroke="#1d3440" stroke-width="0.85"/>
<circle cx="278.1" cy="334.6" r="1.5" fill="#2992b4" stroke="#1d3440" stroke-width="0.85"/>
<circle cx="276.6" cy="339.5" r="1.5" fill="#2992b4" stroke="#1d3440" stroke-width="0.85"/>
<circle cx="366.1" cy="340" r="1.5" fill="#2992b4" stroke="#1d3440" stroke-width="0.85"/>
<circle cx="367.6" cy="341.2" r="1.5" fill="#2992b4" stroke="#1d3440" stroke-width="0.85"/>
<circle cx="306" cy="343.7" r="1.5" fill="#2992b4" stroke="#1d3440" stroke-width="0.85"/>
<circle cx="318.1" cy="341.2" r="1.5" fill="#2992b4" stroke="#1d3440" stroke-width="0.85"/>
<circle cx="343.7" cy="343.2" r="1.5" fill="#2992b4" stroke="#1d3440" stroke-width="0.85"/>
<circle cx="354.6" cy="343.2" r="1.5" fill="#2992b4" stroke="#1d3440" stroke-width="0.85"/>
<circle cx="363.2" cy="343.7" r="1.5" fill="#2992b4" stroke="#1d3440" stroke-width="0.85"/>
<circle cx="398" cy="326.7" r="1.5" fill="#2992b4" stroke="#1d3440" stroke-width="0.85"/>
<circle cx="398" cy="329.8" r="1.5" fill="#2992b4" stroke="#1d3440" stroke-width="0.85"/>
<circle cx="400" cy="334" r="1.5" fill="#2992b4" stroke="#1d3440" stroke-width="0.85"/>
<circle cx="425.2" cy="329.1" r="1.5" fill="#2992b4" stroke="#1d3440" stroke-width="0.85"/>
<circle cx="423.6" cy="332" r="1.5" fill="#2992b4" stroke="#1d3440" stroke-width="0.85"/>
<circle cx="366.5" cy="337.5" r="1.5" fill="#2992b4" stroke="#1d3440" stroke-width="0.85"/>
<circle cx="378" cy="337.5" r="1.5" fill="#2992b4" stroke="#1d3440" stroke-width="0.85"/>
<circle cx="387.2" cy="338.4" r="1.5" fill="#2992b4" stroke="#1d3440" stroke-width="0.85"/>
<circle cx="398.3" cy="340.8" r="1.5" fill="#2992b4" stroke="#1d3440" stroke-width="0.85"/>
<circle cx="412.8" cy="342" r="1.5" fill="#2992b4" stroke="#1d3440" stroke-width="0.85"/>
<circle cx="436.6" cy="337.5" r="1.5" fill="#2992b4" stroke="#1d3440" stroke-width="0.85"/>
<circle cx="439" cy="335.6" r="1.5" fill="#2992b4" stroke="#1d3440" stroke-width="0.85"/>
<circle cx="371" cy="343.2" r="1.5" fill="#2992b4" stroke="#1d3440" stroke-width="0.85"/>
<circle cx="386" cy="343.7" r="1.5" fill="#2992b4" stroke="#1d3440" stroke-width="0.85"/>
<circle cx="439.8" cy="338.6" r="1.5" fill="#2992b4" stroke="#1d3440" stroke-width="0.85"/>
<circle cx="442.9" cy="337.7" r="1.5" fill="#2992b4" stroke="#1d3440" stroke-width="0.85"/>
<circle cx="447.2" cy="336.1" r="1.5" fill="#2992b4" stroke="#1d3440" stroke-width="0.85"/>
<circle cx="449.1" cy="337.7" r="1.5" fill="#2992b4" stroke="#1d3440" stroke-width="0.85"/>
<circle cx="454.4" cy="319.1" r="1.5" fill="#2992b4" stroke="#1d3440" stroke-width="0.85"/>
<circle cx="454.4" cy="339.3" r="1.5" fill="#2992b4" stroke="#1d3440" stroke-width="0.85"/>
<circle cx="428.1" cy="343.7" r="1.5" fill="#2992b4" stroke="#1d3440" stroke-width="0.85"/>
<circle cx="435.8" cy="343.2" r="1.5" fill="#2992b4" stroke="#1d3440" stroke-width="0.85"/>
<circle cx="365" cy="342" r="1.5" fill="#2992b4" stroke="#1d3440" stroke-width="0.85"/>
<circle cx="369.5" cy="342.5" r="1.5" fill="#2992b4" stroke="#1d3440" stroke-width="0.85"/>
<circle cx="377" cy="341" r="1.5" fill="#2992b4" stroke="#1d3440" stroke-width="0.85"/>
<circle cx="387.5" cy="337.5" r="1.5" fill="#2992b4" stroke="#1d3440" stroke-width="0.85"/>
<circle cx="389.6" cy="340.5" r="1.5" fill="#2992b4" stroke="#1d3440" stroke-width="0.85"/>
<circle cx="396" cy="342" r="1.5" fill="#2992b4" stroke="#1d3440" stroke-width="0.85"/>
<circle cx="413" cy="342.5" r="1.5" fill="#2992b4" stroke="#1d3440" stroke-width="0.85"/>
<circle cx="423.5" cy="342" r="1.5" fill="#2992b4" stroke="#1d3440" stroke-width="0.85"/>
<circle cx="429.8" cy="342" r="1.5" fill="#2992b4" stroke="#1d3440" stroke-width="0.85"/>
<circle cx="434" cy="342" r="1.5" fill="#2992b4" stroke="#1d3440" stroke-width="0.85"/>
<circle cx="443.6" cy="335" r="1.5" fill="#2992b4" stroke="#1d3440" stroke-width="0.85"/>
<circle cx="448.9" cy="334.4" r="1.5" fill="#2992b4" stroke="#1d3440" stroke-width="0.85"/>
<circle cx="453" cy="340" r="1.5" fill="#2992b4" stroke="#1d3440" stroke-width="0.85"/>
<circle cx="424" cy="330" r="1.5" fill="#2992b4" stroke="#1d3440" stroke-width="0.85"/>
<circle cx="399" cy="333" r="1.5" fill="#2992b4" stroke="#1d3440" stroke-width="0.85"/>
<circle cx="130.9" cy="252.5" r="1.5" fill="#f0d592" stroke="#8e6a1c" stroke-width="0.85"/>
<circle cx="130.9" cy="305.5" r="1.5" fill="#f0d592" stroke="#8e6a1c" stroke-width="0.85"/>
<circle cx="130.9" cy="311.1" r="1.5" fill="#f0d592" stroke="#8e6a1c" stroke-width="0.85"/>
<circle cx="130.9" cy="314.5" r="1.5" fill="#f0d592" stroke="#8e6a1c" stroke-width="0.85"/>
<circle cx="130.9" cy="320.2" r="1.5" fill="#f0d592" stroke="#8e6a1c" stroke-width="0.85"/>
<circle cx="130.9" cy="323.6" r="1.5" fill="#f0d592" stroke="#8e6a1c" stroke-width="0.85"/>
<circle cx="130.9" cy="328.2" r="1.5" fill="#f0d592" stroke="#8e6a1c" stroke-width="0.85"/>
<circle cx="130.9" cy="331.6" r="1.5" fill="#f0d592" stroke="#8e6a1c" stroke-width="0.85"/>
<circle cx="130.9" cy="333.9" r="1.5" fill="#f0d592" stroke="#8e6a1c" stroke-width="0.85"/>
<circle cx="130.9" cy="337.3" r="1.5" fill="#f0d592" stroke="#8e6a1c" stroke-width="0.85"/>
<circle cx="130.9" cy="343" r="1.5" fill="#f0d592" stroke="#8e6a1c" stroke-width="0.85"/>
<circle cx="134.8" cy="277.5" r="1.5" fill="#f0d592" stroke="#8e6a1c" stroke-width="0.85"/>
<circle cx="133.6" cy="308.2" r="1.5" fill="#f0d592" stroke="#8e6a1c" stroke-width="0.85"/>
<circle cx="134.8" cy="328.2" r="1.5" fill="#f0d592" stroke="#8e6a1c" stroke-width="0.85"/>
<circle cx="135.9" cy="333.9" r="1.5" fill="#f0d592" stroke="#8e6a1c" stroke-width="0.85"/>
<circle cx="137.3" cy="310.7" r="1.5" fill="#f0d592" stroke="#8e6a1c" stroke-width="0.85"/>
<circle cx="139.8" cy="319.8" r="1.5" fill="#f0d592" stroke="#8e6a1c" stroke-width="0.85"/>
<circle cx="140.5" cy="321.8" r="1.5" fill="#f0d592" stroke="#8e6a1c" stroke-width="0.85"/>
<circle cx="138.9" cy="343" r="1.5" fill="#f0d592" stroke="#8e6a1c" stroke-width="0.85"/>
<circle cx="143.2" cy="308.2" r="1.5" fill="#f0d592" stroke="#8e6a1c" stroke-width="0.85"/>
<circle cx="147.7" cy="279.3" r="1.5" fill="#f0d592" stroke="#8e6a1c" stroke-width="0.85"/>
<circle cx="147.7" cy="308.9" r="1.5" fill="#f0d592" stroke="#8e6a1c" stroke-width="0.85"/>
<circle cx="147.7" cy="334.5" r="1.5" fill="#f0d592" stroke="#8e6a1c" stroke-width="0.85"/>
<circle cx="153.6" cy="327" r="1.5" fill="#f0d592" stroke="#8e6a1c" stroke-width="0.85"/>
<circle cx="154.5" cy="340" r="1.5" fill="#f0d592" stroke="#8e6a1c" stroke-width="0.85"/>
<circle cx="143.2" cy="227.5" r="1.5" fill="#f0d592" stroke="#8e6a1c" stroke-width="0.85"/>
<circle cx="171" cy="243.4" r="1.5" fill="#f0d592" stroke="#8e6a1c" stroke-width="0.85"/>
<circle cx="184.4" cy="300.7" r="1.5" fill="#f0d592" stroke="#8e6a1c" stroke-width="0.85"/>
<circle cx="208.3" cy="250.2" r="1.5" fill="#f0d592" stroke="#8e6a1c" stroke-width="0.85"/>
<circle cx="207.6" cy="303.7" r="1.5" fill="#f0d592" stroke="#8e6a1c" stroke-width="0.85"/>
<circle cx="206.8" cy="307.8" r="1.5" fill="#f0d592" stroke="#8e6a1c" stroke-width="0.85"/>
<circle cx="207.6" cy="328" r="1.5" fill="#f0d592" stroke="#8e6a1c" stroke-width="0.85"/>
<circle cx="207" cy="331.5" r="1.5" fill="#f0d592" stroke="#8e6a1c" stroke-width="0.85"/>
<circle cx="173.5" cy="340" r="1.5" fill="#f0d592" stroke="#8e6a1c" stroke-width="0.85"/>
<circle cx="176.5" cy="342.3" r="1.5" fill="#f0d592" stroke="#8e6a1c" stroke-width="0.85"/>
<circle cx="180.4" cy="341.8" r="1.5" fill="#f0d592" stroke="#8e6a1c" stroke-width="0.85"/>
<circle cx="169.2" cy="343" r="1.5" fill="#f0d592" stroke="#8e6a1c" stroke-width="0.85"/>
<circle cx="248.6" cy="265.7" r="1.5" fill="#f0d592" stroke="#8e6a1c" stroke-width="0.85"/>
<circle cx="248.6" cy="277.4" r="1.5" fill="#f0d592" stroke="#8e6a1c" stroke-width="0.85"/>
<circle cx="248.6" cy="296.7" r="1.5" fill="#f0d592" stroke="#8e6a1c" stroke-width="0.85"/>
<circle cx="248.6" cy="303.5" r="1.5" fill="#f0d592" stroke="#8e6a1c" stroke-width="0.85"/>
<circle cx="248.6" cy="310.3" r="1.5" fill="#f0d592" stroke="#8e6a1c" stroke-width="0.85"/>
<circle cx="248.6" cy="313.2" r="1.5" fill="#f0d592" stroke="#8e6a1c" stroke-width="0.85"/>
<circle cx="248.6" cy="316.4" r="1.5" fill="#f0d592" stroke="#8e6a1c" stroke-width="0.85"/>
<circle cx="248.6" cy="325" r="1.5" fill="#f0d592" stroke="#8e6a1c" stroke-width="0.85"/>
<circle cx="248.6" cy="332" r="1.5" fill="#f0d592" stroke="#8e6a1c" stroke-width="0.85"/>
<circle cx="276.6" cy="277.9" r="1.5" fill="#f0d592" stroke="#8e6a1c" stroke-width="0.85"/>
<circle cx="277.3" cy="304.7" r="1.5" fill="#f0d592" stroke="#8e6a1c" stroke-width="0.85"/>
<circle cx="276.1" cy="307.1" r="1.5" fill="#f0d592" stroke="#8e6a1c" stroke-width="0.85"/>
<circle cx="286.4" cy="338.3" r="1.5" fill="#f0d592" stroke="#8e6a1c" stroke-width="0.85"/>
<circle cx="287.1" cy="341.2" r="1.5" fill="#f0d592" stroke="#8e6a1c" stroke-width="0.85"/>
<circle cx="309.1" cy="275" r="1.5" fill="#f0d592" stroke="#8e6a1c" stroke-width="0.85"/>
<circle cx="328.4" cy="303.5" r="1.5" fill="#f0d592" stroke="#8e6a1c" stroke-width="0.85"/>
<circle cx="328.4" cy="330.3" r="1.5" fill="#f0d592" stroke="#8e6a1c" stroke-width="0.85"/>
<circle cx="330.3" cy="340" r="1.5" fill="#f0d592" stroke="#8e6a1c" stroke-width="0.85"/>
<circle cx="330.3" cy="342.4" r="1.5" fill="#f0d592" stroke="#8e6a1c" stroke-width="0.85"/>
<circle cx="357.8" cy="331" r="1.5" fill="#f0d592" stroke="#8e6a1c" stroke-width="0.85"/>
<circle cx="368" cy="318.8" r="1.5" fill="#f0d592" stroke="#8e6a1c" stroke-width="0.85"/>
<circle cx="348.6" cy="341.2" r="1.5" fill="#f0d592" stroke="#8e6a1c" stroke-width="0.85"/>
<circle cx="368.7" cy="319" r="1.5" fill="#f0d592" stroke="#8e6a1c" stroke-width="0.85"/>
<circle cx="380.4" cy="250.1" r="1.5" fill="#f0d592" stroke="#8e6a1c" stroke-width="0.85"/>
<circle cx="380.4" cy="288.1" r="1.5" fill="#f0d592" stroke="#8e6a1c" stroke-width="0.85"/>
<circle cx="380.4" cy="299.5" r="1.5" fill="#f0d592" stroke="#8e6a1c" stroke-width="0.85"/>
<circle cx="379.8" cy="319.6" r="1.5" fill="#f0d592" stroke="#8e6a1c" stroke-width="0.85"/>
<circle cx="387.5" cy="274.8" r="1.5" fill="#f0d592" stroke="#8e6a1c" stroke-width="0.85"/>
<circle cx="387.5" cy="299.8" r="1.5" fill="#f0d592" stroke="#8e6a1c" stroke-width="0.85"/>
<circle cx="398" cy="198" r="1.5" fill="#f0d592" stroke="#8e6a1c" stroke-width="0.85"/>
<circle cx="398" cy="206.9" r="1.5" fill="#f0d592" stroke="#8e6a1c" stroke-width="0.85"/>
<circle cx="398" cy="234.1" r="1.5" fill="#f0d592" stroke="#8e6a1c" stroke-width="0.85"/>
<circle cx="398" cy="260.6" r="1.5" fill="#f0d592" stroke="#8e6a1c" stroke-width="0.85"/>
<circle cx="398" cy="273.6" r="1.5" fill="#f0d592" stroke="#8e6a1c" stroke-width="0.85"/>
<circle cx="398" cy="294.9" r="1.5" fill="#f0d592" stroke="#8e6a1c" stroke-width="0.85"/>
<circle cx="398" cy="297.3" r="1.5" fill="#f0d592" stroke="#8e6a1c" stroke-width="0.85"/>
<circle cx="398" cy="311.2" r="1.5" fill="#f0d592" stroke="#8e6a1c" stroke-width="0.85"/>
<circle cx="400.8" cy="311.2" r="1.5" fill="#f0d592" stroke="#8e6a1c" stroke-width="0.85"/>
<circle cx="398" cy="319" r="1.5" fill="#f0d592" stroke="#8e6a1c" stroke-width="0.85"/>
<circle cx="398" cy="322" r="1.5" fill="#f0d592" stroke="#8e6a1c" stroke-width="0.85"/>
<circle cx="406.7" cy="312.8" r="1.5" fill="#f0d592" stroke="#8e6a1c" stroke-width="0.85"/>
<circle cx="407.6" cy="317.4" r="1.5" fill="#f0d592" stroke="#8e6a1c" stroke-width="0.85"/>
<circle cx="409.8" cy="306.6" r="1.5" fill="#f0d592" stroke="#8e6a1c" stroke-width="0.85"/>
<circle cx="410.7" cy="323.6" r="1.5" fill="#f0d592" stroke="#8e6a1c" stroke-width="0.85"/>
<circle cx="419.9" cy="235.6" r="1.5" fill="#f0d592" stroke="#8e6a1c" stroke-width="0.85"/>
<circle cx="423.6" cy="243.3" r="1.5" fill="#f0d592" stroke="#8e6a1c" stroke-width="0.85"/>
<circle cx="420.6" cy="271.7" r="1.5" fill="#f0d592" stroke="#8e6a1c" stroke-width="0.85"/>
<circle cx="425.8" cy="279.8" r="1.5" fill="#f0d592" stroke="#8e6a1c" stroke-width="0.85"/>
<circle cx="423" cy="291.2" r="1.5" fill="#f0d592" stroke="#8e6a1c" stroke-width="0.85"/>
<circle cx="422.4" cy="306.6" r="1.5" fill="#f0d592" stroke="#8e6a1c" stroke-width="0.85"/>
<circle cx="425.2" cy="309.7" r="1.5" fill="#f0d592" stroke="#8e6a1c" stroke-width="0.85"/>
<circle cx="421.5" cy="320.5" r="1.5" fill="#f0d592" stroke="#8e6a1c" stroke-width="0.85"/>
<circle cx="368.7" cy="339" r="1.5" fill="#f0d592" stroke="#8e6a1c" stroke-width="0.85"/>
<circle cx="398" cy="337.5" r="1.5" fill="#f0d592" stroke="#8e6a1c" stroke-width="0.85"/>
<circle cx="411.3" cy="340.5" r="1.5" fill="#f0d592" stroke="#8e6a1c" stroke-width="0.85"/>
<circle cx="442.9" cy="238.8" r="1.5" fill="#f0d592" stroke="#8e6a1c" stroke-width="0.85"/>
<circle cx="441.1" cy="269.7" r="1.5" fill="#f0d592" stroke="#8e6a1c" stroke-width="0.85"/>
<circle cx="439.8" cy="278" r="1.5" fill="#f0d592" stroke="#8e6a1c" stroke-width="0.85"/>
<circle cx="441.1" cy="292.3" r="1.5" fill="#f0d592" stroke="#8e6a1c" stroke-width="0.85"/>
<circle cx="439.8" cy="299.7" r="1.5" fill="#f0d592" stroke="#8e6a1c" stroke-width="0.85"/>
<circle cx="441.1" cy="303.7" r="1.5" fill="#f0d592" stroke="#8e6a1c" stroke-width="0.85"/>
<circle cx="442.9" cy="305.2" r="1.5" fill="#f0d592" stroke="#8e6a1c" stroke-width="0.85"/>
<circle cx="439.8" cy="316" r="1.5" fill="#f0d592" stroke="#8e6a1c" stroke-width="0.85"/>
<circle cx="441.1" cy="320" r="1.5" fill="#f0d592" stroke="#8e6a1c" stroke-width="0.85"/>
<circle cx="442.9" cy="317.6" r="1.5" fill="#f0d592" stroke="#8e6a1c" stroke-width="0.85"/>
<circle cx="442.9" cy="328.4" r="1.5" fill="#f0d592" stroke="#8e6a1c" stroke-width="0.85"/>
<circle cx="448.2" cy="220.3" r="1.5" fill="#f0d592" stroke="#8e6a1c" stroke-width="0.85"/>
<circle cx="449.1" cy="262" r="1.5" fill="#f0d592" stroke="#8e6a1c" stroke-width="0.85"/>
<circle cx="449.1" cy="288.2" r="1.5" fill="#f0d592" stroke="#8e6a1c" stroke-width="0.85"/>
<circle cx="449.1" cy="293.8" r="1.5" fill="#f0d592" stroke="#8e6a1c" stroke-width="0.85"/>
<circle cx="449.1" cy="303.7" r="1.5" fill="#f0d592" stroke="#8e6a1c" stroke-width="0.85"/>
<circle cx="449.1" cy="308.3" r="1.5" fill="#f0d592" stroke="#8e6a1c" stroke-width="0.85"/>
<circle cx="449.1" cy="320" r="1.5" fill="#f0d592" stroke="#8e6a1c" stroke-width="0.85"/>
<circle cx="449.1" cy="323.8" r="1.5" fill="#f0d592" stroke="#8e6a1c" stroke-width="0.85"/>
<circle cx="449.1" cy="328.4" r="1.5" fill="#f0d592" stroke="#8e6a1c" stroke-width="0.85"/>
<circle cx="457.5" cy="342.4" r="1.5" fill="#f0d592" stroke="#8e6a1c" stroke-width="0.85"/>
<circle cx="460.5" cy="344" r="1.5" fill="#f0d592" stroke="#8e6a1c" stroke-width="0.85"/>
<circle cx="367" cy="339" r="1.5" fill="#f0d592" stroke="#8e6a1c" stroke-width="0.85"/>
<circle cx="374.8" cy="342" r="1.5" fill="#f0d592" stroke="#8e6a1c" stroke-width="0.85"/>
<circle cx="402.3" cy="341.5" r="1.5" fill="#f0d592" stroke="#8e6a1c" stroke-width="0.85"/>
<circle cx="405.5" cy="342" r="1.5" fill="#f0d592" stroke="#8e6a1c" stroke-width="0.85"/>
<circle cx="411.8" cy="340" r="1.5" fill="#f0d592" stroke="#8e6a1c" stroke-width="0.85"/>
<circle cx="439.3" cy="340" r="1.5" fill="#f0d592" stroke="#8e6a1c" stroke-width="0.85"/>
<circle cx="441.4" cy="337" r="1.5" fill="#f0d592" stroke="#8e6a1c" stroke-width="0.85"/>
<circle cx="446.7" cy="338" r="1.5" fill="#f0d592" stroke="#8e6a1c" stroke-width="0.85"/>
<circle cx="456.3" cy="342" r="1.5" fill="#f0d592" stroke="#8e6a1c" stroke-width="0.85"/>
<circle cx="459.4" cy="343" r="1.5" fill="#f0d592" stroke="#8e6a1c" stroke-width="0.85"/>
<circle cx="100" cy="343.9" r="1.5" fill="#b0161f" stroke="#5a1212" stroke-width="0.85"/>
<circle cx="102.3" cy="343.9" r="1.5" fill="#b0161f" stroke="#5a1212" stroke-width="0.85"/>
<circle cx="110.9" cy="343.9" r="1.5" fill="#b0161f" stroke="#5a1212" stroke-width="0.85"/>
<circle cx="115.9" cy="343.9" r="1.5" fill="#b0161f" stroke="#5a1212" stroke-width="0.85"/>
<circle cx="118.9" cy="343.9" r="1.5" fill="#b0161f" stroke="#5a1212" stroke-width="0.85"/>
<circle cx="121.1" cy="343.9" r="1.5" fill="#b0161f" stroke="#5a1212" stroke-width="0.85"/>
<circle cx="130.9" cy="234.3" r="1.5" fill="#b0161f" stroke="#5a1212" stroke-width="0.85"/>
<circle cx="130.9" cy="244.5" r="1.5" fill="#b0161f" stroke="#5a1212" stroke-width="0.85"/>
<circle cx="130.9" cy="271.4" r="1.5" fill="#b0161f" stroke="#5a1212" stroke-width="0.85"/>
<circle cx="130.9" cy="280.5" r="1.5" fill="#b0161f" stroke="#5a1212" stroke-width="0.85"/>
<circle cx="130.9" cy="283.2" r="1.5" fill="#b0161f" stroke="#5a1212" stroke-width="0.85"/>
<circle cx="130.9" cy="286.1" r="1.5" fill="#b0161f" stroke="#5a1212" stroke-width="0.85"/>
<circle cx="130.9" cy="289.1" r="1.5" fill="#b0161f" stroke="#5a1212" stroke-width="0.85"/>
<circle cx="130.9" cy="291.8" r="1.5" fill="#b0161f" stroke="#5a1212" stroke-width="0.85"/>
<circle cx="130.9" cy="294.5" r="1.5" fill="#b0161f" stroke="#5a1212" stroke-width="0.85"/>
<circle cx="130.9" cy="297.5" r="1.5" fill="#b0161f" stroke="#5a1212" stroke-width="0.85"/>
<circle cx="130.9" cy="299.8" r="1.5" fill="#b0161f" stroke="#5a1212" stroke-width="0.85"/>
<circle cx="130.9" cy="302.7" r="1.5" fill="#b0161f" stroke="#5a1212" stroke-width="0.85"/>
<circle cx="130.9" cy="316.8" r="1.5" fill="#b0161f" stroke="#5a1212" stroke-width="0.85"/>
<circle cx="133.6" cy="254.8" r="1.5" fill="#b0161f" stroke="#5a1212" stroke-width="0.85"/>
<circle cx="132.5" cy="303.2" r="1.5" fill="#b0161f" stroke="#5a1212" stroke-width="0.85"/>
<circle cx="140" cy="232.3" r="1.5" fill="#b0161f" stroke="#5a1212" stroke-width="0.85"/>
<circle cx="143.2" cy="290.7" r="1.5" fill="#b0161f" stroke="#5a1212" stroke-width="0.85"/>
<circle cx="147.7" cy="232" r="1.5" fill="#b0161f" stroke="#5a1212" stroke-width="0.85"/>
<circle cx="150.2" cy="286.1" r="1.5" fill="#b0161f" stroke="#5a1212" stroke-width="0.85"/>
<circle cx="151.8" cy="294.1" r="1.5" fill="#b0161f" stroke="#5a1212" stroke-width="0.85"/>
<circle cx="151.8" cy="305.5" r="1.5" fill="#b0161f" stroke="#5a1212" stroke-width="0.85"/>
<circle cx="151.8" cy="322" r="1.5" fill="#b0161f" stroke="#5a1212" stroke-width="0.85"/>
<circle cx="152.2" cy="323.6" r="1.5" fill="#b0161f" stroke="#5a1212" stroke-width="0.85"/>
<circle cx="155.2" cy="243.4" r="1.5" fill="#b0161f" stroke="#5a1212" stroke-width="0.85"/>
<circle cx="154.5" cy="297.5" r="1.5" fill="#b0161f" stroke="#5a1212" stroke-width="0.85"/>
<circle cx="154.5" cy="311.1" r="1.5" fill="#b0161f" stroke="#5a1212" stroke-width="0.85"/>
<circle cx="173.4" cy="216.3" r="1.5" fill="#b0161f" stroke="#5a1212" stroke-width="0.85"/>
<circle cx="195.4" cy="250.2" r="1.5" fill="#b0161f" stroke="#5a1212" stroke-width="0.85"/>
<circle cx="206.3" cy="247.8" r="1.5" fill="#b0161f" stroke="#5a1212" stroke-width="0.85"/>
<circle cx="203.4" cy="318.3" r="1.5" fill="#b0161f" stroke="#5a1212" stroke-width="0.85"/>
<circle cx="203.9" cy="329.3" r="1.5" fill="#b0161f" stroke="#5a1212" stroke-width="0.85"/>
<circle cx="199.5" cy="333.7" r="1.5" fill="#b0161f" stroke="#5a1212" stroke-width="0.85"/>
<circle cx="203.4" cy="334.9" r="1.5" fill="#b0161f" stroke="#5a1212" stroke-width="0.85"/>
<circle cx="208" cy="338.5" r="1.5" fill="#b0161f" stroke="#5a1212" stroke-width="0.85"/>
<circle cx="209.6" cy="340" r="1.5" fill="#b0161f" stroke="#5a1212" stroke-width="0.85"/>
<circle cx="208.8" cy="343" r="1.5" fill="#b0161f" stroke="#5a1212" stroke-width="0.85"/>
<circle cx="174.1" cy="334.1" r="1.5" fill="#b0161f" stroke="#5a1212" stroke-width="0.85"/>
<circle cx="174.2" cy="333.8" r="1.5" fill="#b0161f" stroke="#5a1212" stroke-width="0.85"/>
<circle cx="172.7" cy="344" r="1.5" fill="#b0161f" stroke="#5a1212" stroke-width="0.85"/>
<circle cx="175" cy="343.2" r="1.5" fill="#b0161f" stroke="#5a1212" stroke-width="0.85"/>
<circle cx="181.2" cy="344" r="1.5" fill="#b0161f" stroke="#5a1212" stroke-width="0.85"/>
<circle cx="182" cy="337.5" r="1.5" fill="#b0161f" stroke="#5a1212" stroke-width="0.85"/>
<circle cx="190.4" cy="344" r="1.5" fill="#b0161f" stroke="#5a1212" stroke-width="0.85"/>
<circle cx="192" cy="344" r="1.5" fill="#b0161f" stroke="#5a1212" stroke-width="0.85"/>
<circle cx="195.8" cy="344" r="1.5" fill="#b0161f" stroke="#5a1212" stroke-width="0.85"/>
<circle cx="219.5" cy="340.8" r="1.5" fill="#b0161f" stroke="#5a1212" stroke-width="0.85"/>
<circle cx="221.2" cy="342.3" r="1.5" fill="#b0161f" stroke="#5a1212" stroke-width="0.85"/>
<circle cx="223.5" cy="343.4" r="1.5" fill="#b0161f" stroke="#5a1212" stroke-width="0.85"/>
<circle cx="225.8" cy="343.4" r="1.5" fill="#b0161f" stroke="#5a1212" stroke-width="0.85"/>
<circle cx="228.8" cy="344.2" r="1.5" fill="#b0161f" stroke="#5a1212" stroke-width="0.85"/>
<circle cx="234.2" cy="334.2" r="1.5" fill="#b0161f" stroke="#5a1212" stroke-width="0.85"/>
<circle cx="199.6" cy="334.2" r="1.5" fill="#b0161f" stroke="#5a1212" stroke-width="0.85"/>
<circle cx="248.6" cy="270.6" r="1.5" fill="#b0161f" stroke="#5a1212" stroke-width="0.85"/>
<circle cx="248.6" cy="306.6" r="1.5" fill="#b0161f" stroke="#5a1212" stroke-width="0.85"/>
<circle cx="276.7" cy="198.4" r="1.5" fill="#b0161f" stroke="#5a1212" stroke-width="0.85"/>
<circle cx="277" cy="209.4" r="1.5" fill="#b0161f" stroke="#5a1212" stroke-width="0.85"/>
<circle cx="278.4" cy="209.4" r="1.5" fill="#b0161f" stroke="#5a1212" stroke-width="0.85"/>
<circle cx="276.7" cy="213.3" r="1.5" fill="#b0161f" stroke="#5a1212" stroke-width="0.85"/>
<circle cx="276.7" cy="217.9" r="1.5" fill="#b0161f" stroke="#5a1212" stroke-width="0.85"/>
<circle cx="276.7" cy="221" r="1.5" fill="#b0161f" stroke="#5a1212" stroke-width="0.85"/>
<circle cx="276.7" cy="231.3" r="1.5" fill="#b0161f" stroke="#5a1212" stroke-width="0.85"/>
<circle cx="279.1" cy="232" r="1.5" fill="#b0161f" stroke="#5a1212" stroke-width="0.85"/>
<circle cx="276.7" cy="238" r="1.5" fill="#b0161f" stroke="#5a1212" stroke-width="0.85"/>
<circle cx="276.7" cy="243.5" r="1.5" fill="#b0161f" stroke="#5a1212" stroke-width="0.85"/>
<circle cx="275.1" cy="249" r="1.5" fill="#b0161f" stroke="#5a1212" stroke-width="0.85"/>
<circle cx="277" cy="249" r="1.5" fill="#b0161f" stroke="#5a1212" stroke-width="0.85"/>
<circle cx="276.7" cy="258.2" r="1.5" fill="#b0161f" stroke="#5a1212" stroke-width="0.85"/>
<circle cx="276.6" cy="262.1" r="1.5" fill="#b0161f" stroke="#5a1212" stroke-width="0.85"/>
<circle cx="276.6" cy="267" r="1.5" fill="#b0161f" stroke="#5a1212" stroke-width="0.85"/>
<circle cx="276.6" cy="272.6" r="1.5" fill="#b0161f" stroke="#5a1212" stroke-width="0.85"/>
<circle cx="276.6" cy="288.9" r="1.5" fill="#b0161f" stroke="#5a1212" stroke-width="0.85"/>
<circle cx="276.6" cy="294.2" r="1.5" fill="#b0161f" stroke="#5a1212" stroke-width="0.85"/>
<circle cx="284.7" cy="288.4" r="1.5" fill="#b0161f" stroke="#5a1212" stroke-width="0.85"/>
<circle cx="282.2" cy="304.7" r="1.5" fill="#b0161f" stroke="#5a1212" stroke-width="0.85"/>
<circle cx="284.7" cy="304.7" r="1.5" fill="#b0161f" stroke="#5a1212" stroke-width="0.85"/>
<circle cx="297.6" cy="281.6" r="1.5" fill="#b0161f" stroke="#5a1212" stroke-width="0.85"/>
<circle cx="234.3" cy="333.4" r="1.5" fill="#b0161f" stroke="#5a1212" stroke-width="0.85"/>
<circle cx="238.4" cy="333.4" r="1.5" fill="#b0161f" stroke="#5a1212" stroke-width="0.85"/>
<circle cx="234.3" cy="343.7" r="1.5" fill="#b0161f" stroke="#5a1212" stroke-width="0.85"/>
<circle cx="238.4" cy="343.7" r="1.5" fill="#b0161f" stroke="#5a1212" stroke-width="0.85"/>
<circle cx="225" cy="343.7" r="1.5" fill="#b0161f" stroke="#5a1212" stroke-width="0.85"/>
<circle cx="228.6" cy="344.7" r="1.5" fill="#b0161f" stroke="#5a1212" stroke-width="0.85"/>
<circle cx="284.7" cy="343.7" r="1.5" fill="#b0161f" stroke="#5a1212" stroke-width="0.85"/>
<circle cx="288.8" cy="343.7" r="1.5" fill="#b0161f" stroke="#5a1212" stroke-width="0.85"/>
<circle cx="290.7" cy="343.7" r="1.5" fill="#b0161f" stroke="#5a1212" stroke-width="0.85"/>
<circle cx="297.6" cy="343.7" r="1.5" fill="#b0161f" stroke="#5a1212" stroke-width="0.85"/>
<circle cx="309.1" cy="232.1" r="1.5" fill="#b0161f" stroke="#5a1212" stroke-width="0.85"/>
<circle cx="307.7" cy="318.1" r="1.5" fill="#b0161f" stroke="#5a1212" stroke-width="0.85"/>
<circle cx="308.4" cy="341" r="1.5" fill="#b0161f" stroke="#5a1212" stroke-width="0.85"/>
<circle cx="309.6" cy="342" r="1.5" fill="#b0161f" stroke="#5a1212" stroke-width="0.85"/>
<circle cx="348.1" cy="304.7" r="1.5" fill="#b0161f" stroke="#5a1212" stroke-width="0.85"/>
<circle cx="351.5" cy="329" r="1.5" fill="#b0161f" stroke="#5a1212" stroke-width="0.85"/>
<circle cx="350.5" cy="333.4" r="1.5" fill="#b0161f" stroke="#5a1212" stroke-width="0.85"/>
<circle cx="349" cy="336.4" r="1.5" fill="#b0161f" stroke="#5a1212" stroke-width="0.85"/>
<circle cx="368" cy="329.1" r="1.5" fill="#b0161f" stroke="#5a1212" stroke-width="0.85"/>
<circle cx="297.4" cy="343.7" r="1.5" fill="#b0161f" stroke="#5a1212" stroke-width="0.85"/>
<circle cx="299.9" cy="344.2" r="1.5" fill="#b0161f" stroke="#5a1212" stroke-width="0.85"/>
<circle cx="304.7" cy="344.2" r="1.5" fill="#b0161f" stroke="#5a1212" stroke-width="0.85"/>
<circle cx="318.1" cy="343.7" r="1.5" fill="#b0161f" stroke="#5a1212" stroke-width="0.85"/>
<circle cx="337.6" cy="344.2" r="1.5" fill="#b0161f" stroke="#5a1212" stroke-width="0.85"/>
<circle cx="347.4" cy="343.7" r="1.5" fill="#b0161f" stroke="#5a1212" stroke-width="0.85"/>
<circle cx="351" cy="343.7" r="1.5" fill="#b0161f" stroke="#5a1212" stroke-width="0.85"/>
<circle cx="358.3" cy="343.7" r="1.5" fill="#b0161f" stroke="#5a1212" stroke-width="0.85"/>
<circle cx="305.9" cy="343.7" r="1.5" fill="#b0161f" stroke="#5a1212" stroke-width="0.85"/>
<circle cx="368.7" cy="329.1" r="1.5" fill="#b0161f" stroke="#5a1212" stroke-width="0.85"/>
<circle cx="380.4" cy="211.9" r="1.5" fill="#b0161f" stroke="#5a1212" stroke-width="0.85"/>
<circle cx="380.4" cy="231.9" r="1.5" fill="#b0161f" stroke="#5a1212" stroke-width="0.85"/>
<circle cx="382.9" cy="231.9" r="1.5" fill="#b0161f" stroke="#5a1212" stroke-width="0.85"/>
<circle cx="385.4" cy="231.9" r="1.5" fill="#b0161f" stroke="#5a1212" stroke-width="0.85"/>
<circle cx="379.8" cy="248" r="1.5" fill="#b0161f" stroke="#5a1212" stroke-width="0.85"/>
<circle cx="378.9" cy="271.1" r="1.5" fill="#b0161f" stroke="#5a1212" stroke-width="0.85"/>
<circle cx="378.9" cy="278.8" r="1.5" fill="#b0161f" stroke="#5a1212" stroke-width="0.85"/>
<circle cx="387.5" cy="243.3" r="1.5" fill="#b0161f" stroke="#5a1212" stroke-width="0.85"/>
<circle cx="398" cy="192.4" r="1.5" fill="#b0161f" stroke="#5a1212" stroke-width="0.85"/>
<circle cx="398" cy="247" r="1.5" fill="#b0161f" stroke="#5a1212" stroke-width="0.85"/>
<circle cx="400.5" cy="287.2" r="1.5" fill="#b0161f" stroke="#5a1212" stroke-width="0.85"/>
<circle cx="404.2" cy="282.8" r="1.5" fill="#b0161f" stroke="#5a1212" stroke-width="0.85"/>
<circle cx="406.7" cy="210.3" r="1.5" fill="#b0161f" stroke="#5a1212" stroke-width="0.85"/>
<circle cx="408.2" cy="231.9" r="1.5" fill="#b0161f" stroke="#5a1212" stroke-width="0.85"/>
<circle cx="409.8" cy="239.6" r="1.5" fill="#b0161f" stroke="#5a1212" stroke-width="0.85"/>
<circle cx="411.3" cy="294.3" r="1.5" fill="#b0161f" stroke="#5a1212" stroke-width="0.85"/>
<circle cx="409.8" cy="299.5" r="1.5" fill="#b0161f" stroke="#5a1212" stroke-width="0.85"/>
<circle cx="409.8" cy="331.3" r="1.5" fill="#b0161f" stroke="#5a1212" stroke-width="0.85"/>
<circle cx="415.9" cy="260.3" r="1.5" fill="#b0161f" stroke="#5a1212" stroke-width="0.85"/>
<circle cx="419" cy="231.9" r="1.5" fill="#b0161f" stroke="#5a1212" stroke-width="0.85"/>
<circle cx="421.5" cy="220.2" r="1.5" fill="#b0161f" stroke="#5a1212" stroke-width="0.85"/>
<circle cx="422.4" cy="198" r="1.5" fill="#b0161f" stroke="#5a1212" stroke-width="0.85"/>
<circle cx="425.8" cy="168.6" r="1.5" fill="#b0161f" stroke="#5a1212" stroke-width="0.85"/>
<circle cx="425.8" cy="194" r="1.5" fill="#b0161f" stroke="#5a1212" stroke-width="0.85"/>
<circle cx="422.4" cy="231.9" r="1.5" fill="#b0161f" stroke="#5a1212" stroke-width="0.85"/>
<circle cx="425.8" cy="229.4" r="1.5" fill="#b0161f" stroke="#5a1212" stroke-width="0.85"/>
<circle cx="421.5" cy="311.2" r="1.5" fill="#b0161f" stroke="#5a1212" stroke-width="0.85"/>
<circle cx="423.6" cy="333.5" r="1.5" fill="#b0161f" stroke="#5a1212" stroke-width="0.85"/>
<circle cx="381.4" cy="343.7" r="1.5" fill="#b0161f" stroke="#5a1212" stroke-width="0.85"/>
<circle cx="392.7" cy="343.7" r="1.5" fill="#b0161f" stroke="#5a1212" stroke-width="0.85"/>
<circle cx="394.3" cy="344.2" r="1.5" fill="#b0161f" stroke="#5a1212" stroke-width="0.85"/>
<circle cx="402" cy="344.2" r="1.5" fill="#b0161f" stroke="#5a1212" stroke-width="0.85"/>
<circle cx="414.4" cy="343.7" r="1.5" fill="#b0161f" stroke="#5a1212" stroke-width="0.85"/>
<circle cx="426.7" cy="343.7" r="1.5" fill="#b0161f" stroke="#5a1212" stroke-width="0.85"/>
<circle cx="438.1" cy="343.7" r="1.5" fill="#b0161f" stroke="#5a1212" stroke-width="0.85"/>
<circle cx="442.9" cy="174.8" r="1.5" fill="#b0161f" stroke="#5a1212" stroke-width="0.85"/>
<circle cx="441.1" cy="211.9" r="1.5" fill="#b0161f" stroke="#5a1212" stroke-width="0.85"/>
<circle cx="439.8" cy="236.6" r="1.5" fill="#b0161f" stroke="#5a1212" stroke-width="0.85"/>
<circle cx="442.9" cy="232.6" r="1.5" fill="#b0161f" stroke="#5a1212" stroke-width="0.85"/>
<circle cx="442.9" cy="265.1" r="1.5" fill="#b0161f" stroke="#5a1212" stroke-width="0.85"/>
<circle cx="441.1" cy="274.3" r="1.5" fill="#b0161f" stroke="#5a1212" stroke-width="0.85"/>
<circle cx="448.2" cy="218.1" r="1.5" fill="#b0161f" stroke="#5a1212" stroke-width="0.85"/>
<circle cx="449.1" cy="232.6" r="1.5" fill="#b0161f" stroke="#5a1212" stroke-width="0.85"/>
<circle cx="448.2" cy="243.4" r="1.5" fill="#b0161f" stroke="#5a1212" stroke-width="0.85"/>
<circle cx="449.1" cy="314.5" r="1.5" fill="#b0161f" stroke="#5a1212" stroke-width="0.85"/>
<circle cx="430.6" cy="343.7" r="1.5" fill="#b0161f" stroke="#5a1212" stroke-width="0.85"/>
<circle cx="462" cy="344" r="1.5" fill="#b0161f" stroke="#5a1212" stroke-width="0.85"/>
<circle cx="362" cy="343.5" r="1.5" fill="#b0161f" stroke="#5a1212" stroke-width="0.85"/>
<circle cx="380" cy="340" r="1.5" fill="#b0161f" stroke="#5a1212" stroke-width="0.85"/>
<circle cx="391.7" cy="342.5" r="1.5" fill="#b0161f" stroke="#5a1212" stroke-width="0.85"/>
<circle cx="393.8" cy="341" r="1.5" fill="#b0161f" stroke="#5a1212" stroke-width="0.85"/>
<circle cx="400.2" cy="340" r="1.5" fill="#b0161f" stroke="#5a1212" stroke-width="0.85"/>
<circle cx="408.7" cy="342" r="1.5" fill="#b0161f" stroke="#5a1212" stroke-width="0.85"/>
<circle cx="414" cy="342" r="1.5" fill="#b0161f" stroke="#5a1212" stroke-width="0.85"/>
<circle cx="419.2" cy="343" r="1.5" fill="#b0161f" stroke="#5a1212" stroke-width="0.85"/>
<circle cx="425.6" cy="343" r="1.5" fill="#b0161f" stroke="#5a1212" stroke-width="0.85"/>
<circle cx="426" cy="330.5" r="1.5" fill="#b0161f" stroke="#5a1212" stroke-width="0.85"/>
<circle cx="409.7" cy="331" r="1.5" fill="#b0161f" stroke="#5a1212" stroke-width="0.85"/>
<circle cx="368.5" cy="329" r="1.5" fill="#b0161f" stroke="#5a1212" stroke-width="0.85"/>
<line x1="81.2" y1="385.9" x2="478.5" y2="385.9" stroke="#1a1a1a" stroke-width="1.25"/>
<line x1="81.2" y1="385.7" x2="81.2" y2="570.2" stroke="#1a1a1a" stroke-width="1.25"/>
<line x1="99.5" y1="383.6" x2="99.5" y2="385.9" stroke="#222" stroke-width="0.8"/>
<text x="99.5" y="378.52" font-size="6.2" text-anchor="middle" fill="#222" font-weight="normal" stroke="#222" stroke-width="0.18">1</text>
<line x1="120.79" y1="383.6" x2="120.79" y2="385.9" stroke="#222" stroke-width="0.8"/>
<text x="120.79" y="378.52" font-size="6.2" text-anchor="middle" fill="#222" font-weight="normal" stroke="#222" stroke-width="0.18">28</text>
<line x1="134.98" y1="383.6" x2="134.98" y2="385.9" stroke="#222" stroke-width="0.8"/>
<text x="134.98" y="378.52" font-size="6.2" text-anchor="middle" fill="#222" font-weight="normal" stroke="#222" stroke-width="0.18">46</text>
<line x1="171.24" y1="383.6" x2="171.24" y2="385.9" stroke="#222" stroke-width="0.8"/>
<text x="171.24" y="378.52" font-size="6.2" text-anchor="middle" fill="#222" font-weight="normal" stroke="#222" stroke-width="0.18">92</text>
<line x1="200.42" y1="383.6" x2="200.42" y2="385.9" stroke="#222" stroke-width="0.8"/>
<text x="200.42" y="378.52" font-size="6.2" text-anchor="middle" fill="#222" font-weight="normal" stroke="#222" stroke-width="0.18">129</text>
<line x1="233.53" y1="383.6" x2="233.53" y2="385.9" stroke="#222" stroke-width="0.8"/>
<text x="233.53" y="378.52" font-size="6.2" text-anchor="middle" fill="#222" font-weight="normal" stroke="#222" stroke-width="0.18">171</text>
<line x1="248.51" y1="383.6" x2="248.51" y2="385.9" stroke="#222" stroke-width="0.8"/>
<text x="248.51" y="378.52" font-size="6.2" text-anchor="middle" fill="#222" font-weight="normal" stroke="#222" stroke-width="0.18">190</text>
<line x1="276.89" y1="383.6" x2="276.89" y2="385.9" stroke="#222" stroke-width="0.8"/>
<text x="276.89" y="378.52" font-size="6.2" text-anchor="middle" fill="#222" font-weight="normal" stroke="#222" stroke-width="0.18">226</text>
<line x1="460.59" y1="383.6" x2="460.59" y2="385.9" stroke="#222" stroke-width="0.8"/>
<text x="460.59" y="378.52" font-size="6.2" text-anchor="middle" fill="#222" font-weight="normal" stroke="#222" stroke-width="0.18">459</text>
<rect x="98.8" y="394.1" width="22" height="11.8" fill="#e14b7f"/>
<rect x="120.8" y="394.1" width="14" height="11.8" fill="#d5d5d8"/>
<rect x="134.8" y="394.1" width="36.8" height="11.8" fill="#f07a1a"/>
<rect x="171.6" y="394.1" width="28.6" height="11.8" fill="#9ea6d8"/>
<rect x="200.2" y="394.1" width="33.6" height="11.8" fill="#e064a0"/>
<rect x="233.8" y="394.1" width="14.7" height="11.8" fill="#f6c328"/>
<rect x="248.5" y="394.1" width="29.6" height="11.8" fill="#58ad48"/>
<rect x="278.1" y="394.1" width="183.2" height="11.8" fill="#2db597"/>
<text x="110.1" y="402.84" font-size="8.2" text-anchor="middle" fill="#fff" font-weight="normal" stroke="#fff" stroke-width="0.18">SP</text>
<text x="128.1" y="402.84" font-size="8.2" text-anchor="middle" fill="#fff" font-weight="normal" stroke="#fff" stroke-width="0.18">PP</text>
<text x="151.7" y="402.84" font-size="8.2" text-anchor="middle" fill="#fff" font-weight="normal" stroke="#fff" stroke-width="0.18">Gla</text>
<text x="185.8" y="402.84" font-size="8.2" text-anchor="middle" fill="#fff" font-weight="normal" stroke="#fff" stroke-width="0.18">EGF1</text>
<text x="215.8" y="402.84" font-size="8.2" text-anchor="middle" fill="#fff" font-weight="normal" stroke="#fff" stroke-width="0.18">EGF2</text>
<text x="239.5" y="402.84" font-size="8.2" text-anchor="middle" fill="#fff" font-weight="normal" stroke="#fff" stroke-width="0.18">LR</text>
<text x="263.7" y="402.84" font-size="8.2" text-anchor="middle" fill="#fff" font-weight="normal" stroke="#fff" stroke-width="0.18">AP</text>
<text x="363.5" y="402.84" font-size="8.2" text-anchor="middle" fill="#fff" font-weight="normal" stroke="#fff" stroke-width="0.18">Serine protease</text>
<rect x="131.4" y="413.1" width="2.8" height="46.5" fill="#d3d3d6"/>
<rect x="133.9" y="413.1" width="2" height="74.4" fill="#e2e2e4"/>
<rect x="136.3" y="413.1" width="2" height="28.83" fill="#f07a1a"/>
<rect x="138" y="413.1" width="1.7" height="63.24" fill="#f07a1a"/>
<rect x="139.4" y="413.1" width="3.4" height="93" fill="#f07a1a"/>
<rect x="142.5" y="413.1" width="2.8" height="64.17" fill="#f07a1a"/>
<rect x="146.4" y="413.1" width="1.9" height="53.94" fill="#f07a1a"/>
<rect x="148" y="413.1" width="2.8" height="93" fill="#f07a1a"/>
<rect x="150.5" y="413.1" width="2.1" height="47.43" fill="#f07a1a"/>
<rect x="152.3" y="413.1" width="2.6" height="42.78" fill="#f07a1a"/>
<rect x="154.6" y="413.1" width="2.9" height="83.7" fill="#f07a1a"/>
<rect x="165.5" y="413.1" width="5.3" height="4.65" fill="#f07a1a"/>
<rect x="170.5" y="413.1" width="2.8" height="83.7" fill="#9ea6d8"/>
<rect x="173" y="413.1" width="3" height="106.02" fill="#9ea6d8"/>
<rect x="177.5" y="413.1" width="2.8" height="4.65" fill="#9ea6d8"/>
<rect x="183.9" y="413.1" width="3.2" height="35.34" fill="#9ea6d8"/>
<rect x="194.3" y="413.1" width="3.3" height="78.12" fill="#9ea6d8"/>
<rect x="205.8" y="413.1" width="4.5" height="79.98" fill="#e064a0"/>
<rect x="217.5" y="413.1" width="3.6" height="4.65" fill="#e064a0"/>
<rect x="247" y="413.1" width="3.5" height="62.31" fill="#f6c328"/>
<rect x="274.4" y="413.1" width="2.4" height="79.05" fill="#58ad48"/>
<rect x="276.5" y="413.1" width="4" height="115.32" fill="#2db597"/>
<rect x="283.8" y="413.1" width="3.1" height="46.5" fill="#2db597"/>
<rect x="297" y="413.1" width="3.2" height="52.08" fill="#2db597"/>
<rect x="307.8" y="413.1" width="3.4" height="93" fill="#2db597"/>
<rect x="326.8" y="413.1" width="3.3" height="34.41" fill="#2db597"/>
<rect x="356" y="413.1" width="3.5" height="11.16" fill="#2db597"/>
<rect x="365" y="413.1" width="2.6" height="3.72" fill="#2db597"/>
<rect x="369" y="413.1" width="2.8" height="1.86" fill="#2db597"/>
<rect x="376.2" y="413.1" width="2.9" height="56.73" fill="#2db597"/>
<rect x="378.8" y="413.1" width="6.9" height="93" fill="#2db597"/>
<rect x="385.4" y="413.1" width="3.5" height="83.7" fill="#2db597"/>
<rect x="395.2" y="413.1" width="2.2" height="23.25" fill="#2db597"/>
<rect x="396.5" y="413.1" width="2.8" height="80.91" fill="#2db597"/>
<rect x="399" y="413.1" width="3" height="47.43" fill="#2db597"/>
<rect x="401.7" y="413.1" width="3.6" height="51.15" fill="#2db597"/>
<rect x="405" y="413.1" width="2.9" height="110.67" fill="#2db597"/>
<rect x="407.6" y="413.1" width="4.2" height="63.24" fill="#2db597"/>
<rect x="411.5" y="413.1" width="3.3" height="5.58" fill="#2db597"/>
<rect x="414.8" y="413.1" width="3.5" height="68.82" fill="#2db597"/>
<rect x="418" y="413.1" width="3.6" height="93" fill="#2db597"/>
<rect x="421.3" y="413.1" width="3" height="106.02" fill="#2db597"/>
<rect x="424" y="413.1" width="3.5" height="123.69" fill="#2db597"/>
<rect x="427.2" y="413.1" width="1.9" height="7.44" fill="#2db597"/>
<rect x="437" y="413.1" width="3.6" height="90.21" fill="#2db597"/>
<rect x="440.3" y="413.1" width="3.6" height="83.7" fill="#2db597"/>
<rect x="443.6" y="413.1" width="2.6" height="19.53" fill="#2db597"/>
<rect x="445.9" y="413.1" width="3.5" height="93.93" fill="#2db597"/>
<rect x="449.1" y="413.1" width="2.7" height="5.58" fill="#2db597"/>
<rect x="451.7" y="413.1" width="3.6" height="21.39" fill="#2db597"/>
<line x1="78.2" y1="413.1" x2="478.5" y2="413.1" stroke="#000" stroke-width="1.2"/>
<line x1="78.2" y1="413.1" x2="81.2" y2="413.1" stroke="#222" stroke-width="0.8"/>
<text x="75.4" y="414.72" font-size="6.2" text-anchor="end" fill="#222" font-weight="normal" stroke="#222" stroke-width="0.18">0</text>
<line x1="78.2" y1="459.6" x2="81.2" y2="459.6" stroke="#222" stroke-width="0.8"/>
<text x="75.4" y="461.22" font-size="6.2" text-anchor="end" fill="#222" font-weight="normal" stroke="#222" stroke-width="0.18">50</text>
<line x1="78.2" y1="506.1" x2="81.2" y2="506.1" stroke="#222" stroke-width="0.8"/>
<text x="75.4" y="507.72" font-size="6.2" text-anchor="end" fill="#222" font-weight="normal" stroke="#222" stroke-width="0.18">100</text>
<line x1="78.2" y1="552.6" x2="81.2" y2="552.6" stroke="#222" stroke-width="0.8"/>
<text x="75.4" y="554.22" font-size="6.2" text-anchor="end" fill="#222" font-weight="normal" stroke="#222" stroke-width="0.18">150</text>
<text transform="translate(56.4,478.1) rotate(-90)" x="0" y="2.58" font-size="7.2" text-anchor="middle" fill="#222" font-weight="normal" stroke="#222" stroke-width="0.4" textLength="22.8" lengthAdjust="spacingAndGlyphs">FIX:Ag/F</text>
<line x1="140.6" y1="409.6" x2="140.6" y2="415.8" stroke="#000" stroke-width="0.9"/>
<line x1="141.4" y1="409.6" x2="141.4" y2="415.8" stroke="#000" stroke-width="0.9"/>
<line x1="146.7" y1="409.6" x2="146.7" y2="415.8" stroke="#000" stroke-width="0.9"/>
<line x1="148.2" y1="409.6" x2="148.2" y2="415.8" stroke="#000" stroke-width="0.9"/>
<line x1="150.8" y1="409.6" x2="150.8" y2="415.8" stroke="#000" stroke-width="0.9"/>
<line x1="151.8" y1="409.6" x2="151.8" y2="415.8" stroke="#000" stroke-width="0.9"/>
<line x1="154.8" y1="409.6" x2="154.8" y2="415.8" stroke="#000" stroke-width="0.9"/>
<line x1="156.3" y1="409.6" x2="156.3" y2="415.8" stroke="#000" stroke-width="0.9"/>
<line x1="157.7" y1="409.6" x2="157.7" y2="415.8" stroke="#000" stroke-width="0.9"/>
<line x1="160.2" y1="409.6" x2="160.2" y2="415.8" stroke="#000" stroke-width="0.9"/>
<line x1="163.5" y1="409.6" x2="163.5" y2="415.8" stroke="#000" stroke-width="0.9"/>
<line x1="166.3" y1="409.6" x2="166.3" y2="415.8" stroke="#000" stroke-width="0.9"/>
<line x1="172.9" y1="409.6" x2="172.9" y2="415.8" stroke="#000" stroke-width="0.9"/>
<line x1="186" y1="409.6" x2="186" y2="415.8" stroke="#000" stroke-width="0.9"/>
<line x1="134.8" y1="488" x2="134.8" y2="553.5" stroke="#111" stroke-width="1.2" stroke-dasharray="3,2"/>
<line x1="249" y1="476" x2="249" y2="525.5" stroke="#111" stroke-width="1.2" stroke-dasharray="3,2"/>
<line x1="277.2" y1="529" x2="277.2" y2="553.5" stroke="#111" stroke-width="1.2" stroke-dasharray="3,2"/>
<text x="135.2" y="564.42" font-size="6.2" text-anchor="middle" fill="#222" font-weight="normal" stroke="#222" stroke-width="0.18" textLength="65.6" lengthAdjust="spacingAndGlyphs">Maturation cleavage site</text>
<text x="135.6" y="570.82" font-size="6.2" text-anchor="middle" fill="#222" font-weight="normal" stroke="#222" stroke-width="0.18" textLength="21.6" lengthAdjust="spacingAndGlyphs">Arg | Tyr</text>
<text x="249.4" y="534.82" font-size="6.2" text-anchor="middle" fill="#222" font-weight="normal" stroke="#222" stroke-width="0.18" textLength="39.8" lengthAdjust="spacingAndGlyphs">Cleavage site I</text>
<text x="249.4" y="542.32" font-size="6.2" text-anchor="middle" fill="#222" font-weight="normal" stroke="#222" stroke-width="0.18" textLength="22.5" lengthAdjust="spacingAndGlyphs">Arg | Ala</text>
<text x="279.7" y="560.42" font-size="6.2" text-anchor="middle" fill="#222" font-weight="normal" stroke="#222" stroke-width="0.18" textLength="41.6" lengthAdjust="spacingAndGlyphs">Cleavage site II</text>
<text x="279.7" y="567.02" font-size="6.2" text-anchor="middle" fill="#222" font-weight="normal" stroke="#222" stroke-width="0.18" textLength="22.5" lengthAdjust="spacingAndGlyphs">Arg | Val</text>
<text x="84.6" y="597.42" font-size="6.2" text-anchor="start" fill="#222" font-weight="normal" stroke="#222" stroke-width="0.18" textLength="166.9" lengthAdjust="spacingAndGlyphs">Cases with FIX:Ag&#8805;40% (n = 303); Unique variants (n = 129)</text>
<text x="84.6" y="605.82" font-size="6.2" text-anchor="start" fill="#222" font-weight="normal" stroke="#222" stroke-width="0.18" textLength="86.2" lengthAdjust="spacingAndGlyphs">Calcium coordinating residue 'I'</text>
<rect x="0.5" y="0.5" width="519" height="614" fill="none" stroke="#555" stroke-width="1"/>
</svg></body></html>
